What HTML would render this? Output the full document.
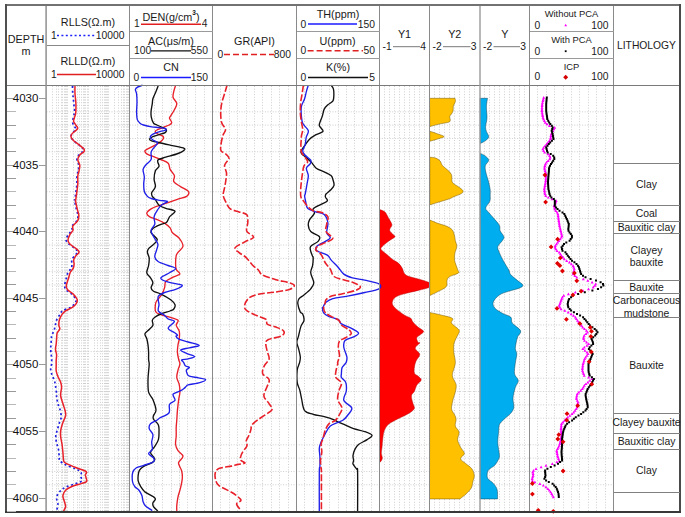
<!DOCTYPE html>
<html><head><meta charset="utf-8"><style>
html,body{margin:0;padding:0;background:#fff;width:685px;height:517px;overflow:hidden}
svg{display:block}
text{font-family:"Liberation Sans",sans-serif}
</style></head><body>
<svg width="685" height="517" viewBox="0 0 685 517">
<rect width="685" height="517" fill="#fff"/>
<g id="grid">
<line x1="46.5" y1="111.82" x2="613.5" y2="111.82" stroke="#cecece" stroke-width="1" stroke-dasharray="1,1.6"/>
<line x1="46.5" y1="125.14" x2="613.5" y2="125.14" stroke="#cecece" stroke-width="1" stroke-dasharray="1,1.6"/>
<line x1="46.5" y1="138.46" x2="613.5" y2="138.46" stroke="#cecece" stroke-width="1" stroke-dasharray="1,1.6"/>
<line x1="46.5" y1="151.78" x2="613.5" y2="151.78" stroke="#cecece" stroke-width="1" stroke-dasharray="1,1.6"/>
<line x1="46.5" y1="178.42000000000002" x2="613.5" y2="178.42000000000002" stroke="#cecece" stroke-width="1" stroke-dasharray="1,1.6"/>
<line x1="46.5" y1="191.74" x2="613.5" y2="191.74" stroke="#cecece" stroke-width="1" stroke-dasharray="1,1.6"/>
<line x1="46.5" y1="205.06" x2="613.5" y2="205.06" stroke="#cecece" stroke-width="1" stroke-dasharray="1,1.6"/>
<line x1="46.5" y1="218.38" x2="613.5" y2="218.38" stroke="#cecece" stroke-width="1" stroke-dasharray="1,1.6"/>
<line x1="46.5" y1="245.02" x2="613.5" y2="245.02" stroke="#cecece" stroke-width="1" stroke-dasharray="1,1.6"/>
<line x1="46.5" y1="258.34000000000003" x2="613.5" y2="258.34000000000003" stroke="#cecece" stroke-width="1" stroke-dasharray="1,1.6"/>
<line x1="46.5" y1="271.65999999999997" x2="613.5" y2="271.65999999999997" stroke="#cecece" stroke-width="1" stroke-dasharray="1,1.6"/>
<line x1="46.5" y1="284.98" x2="613.5" y2="284.98" stroke="#cecece" stroke-width="1" stroke-dasharray="1,1.6"/>
<line x1="46.5" y1="311.62" x2="613.5" y2="311.62" stroke="#cecece" stroke-width="1" stroke-dasharray="1,1.6"/>
<line x1="46.5" y1="324.94" x2="613.5" y2="324.94" stroke="#cecece" stroke-width="1" stroke-dasharray="1,1.6"/>
<line x1="46.5" y1="338.26" x2="613.5" y2="338.26" stroke="#cecece" stroke-width="1" stroke-dasharray="1,1.6"/>
<line x1="46.5" y1="351.58000000000004" x2="613.5" y2="351.58000000000004" stroke="#cecece" stroke-width="1" stroke-dasharray="1,1.6"/>
<line x1="46.5" y1="378.22" x2="613.5" y2="378.22" stroke="#cecece" stroke-width="1" stroke-dasharray="1,1.6"/>
<line x1="46.5" y1="391.54" x2="613.5" y2="391.54" stroke="#cecece" stroke-width="1" stroke-dasharray="1,1.6"/>
<line x1="46.5" y1="404.86" x2="613.5" y2="404.86" stroke="#cecece" stroke-width="1" stroke-dasharray="1,1.6"/>
<line x1="46.5" y1="418.18" x2="613.5" y2="418.18" stroke="#cecece" stroke-width="1" stroke-dasharray="1,1.6"/>
<line x1="46.5" y1="444.82" x2="613.5" y2="444.82" stroke="#cecece" stroke-width="1" stroke-dasharray="1,1.6"/>
<line x1="46.5" y1="458.14" x2="613.5" y2="458.14" stroke="#cecece" stroke-width="1" stroke-dasharray="1,1.6"/>
<line x1="46.5" y1="471.46000000000004" x2="613.5" y2="471.46000000000004" stroke="#cecece" stroke-width="1" stroke-dasharray="1,1.6"/>
<line x1="46.5" y1="484.78000000000003" x2="613.5" y2="484.78000000000003" stroke="#cecece" stroke-width="1" stroke-dasharray="1,1.6"/>
<line x1="52.5" y1="86.0" x2="52.5" y2="512" stroke="#cfcfcf" stroke-width="1" stroke-dasharray="1,1.7"/>
<line x1="56.5" y1="86.0" x2="56.5" y2="512" stroke="#cfcfcf" stroke-width="1" stroke-dasharray="1,1.7"/>
<line x1="58.5" y1="86.0" x2="58.5" y2="512" stroke="#cfcfcf" stroke-width="1" stroke-dasharray="1,1.7"/>
<line x1="61.5" y1="86.0" x2="61.5" y2="512" stroke="#cfcfcf" stroke-width="1" stroke-dasharray="1,1.7"/>
<line x1="62.5" y1="86.0" x2="62.5" y2="512" stroke="#cfcfcf" stroke-width="1" stroke-dasharray="1,1.7"/>
<line x1="64.5" y1="86.0" x2="64.5" y2="512" stroke="#cfcfcf" stroke-width="1" stroke-dasharray="1,1.7"/>
<line x1="65.5" y1="86.0" x2="65.5" y2="512" stroke="#cfcfcf" stroke-width="1" stroke-dasharray="1,1.7"/>
<line x1="66.5" y1="86.0" x2="66.5" y2="512" stroke="#cfcfcf" stroke-width="1" stroke-dasharray="1,1.7"/>
<line x1="67.5" y1="86.0" x2="67.5" y2="512" stroke="#cfcfcf" stroke-width="1" stroke-dasharray="1,1.7"/>
<line x1="73.5" y1="86.0" x2="73.5" y2="512" stroke="#cfcfcf" stroke-width="1" stroke-dasharray="1,1.7"/>
<line x1="77.5" y1="86.0" x2="77.5" y2="512" stroke="#cfcfcf" stroke-width="1" stroke-dasharray="1,1.7"/>
<line x1="79.5" y1="86.0" x2="79.5" y2="512" stroke="#cfcfcf" stroke-width="1" stroke-dasharray="1,1.7"/>
<line x1="81.5" y1="86.0" x2="81.5" y2="512" stroke="#cfcfcf" stroke-width="1" stroke-dasharray="1,1.7"/>
<line x1="83.5" y1="86.0" x2="83.5" y2="512" stroke="#cfcfcf" stroke-width="1" stroke-dasharray="1,1.7"/>
<line x1="84.5" y1="86.0" x2="84.5" y2="512" stroke="#cfcfcf" stroke-width="1" stroke-dasharray="1,1.7"/>
<line x1="85.5" y1="86.0" x2="85.5" y2="512" stroke="#cfcfcf" stroke-width="1" stroke-dasharray="1,1.7"/>
<line x1="87.5" y1="86.0" x2="87.5" y2="512" stroke="#cfcfcf" stroke-width="1" stroke-dasharray="1,1.7"/>
<line x1="88.5" y1="86.0" x2="88.5" y2="512" stroke="#cfcfcf" stroke-width="1" stroke-dasharray="1,1.7"/>
<line x1="94.5" y1="86.0" x2="94.5" y2="512" stroke="#cfcfcf" stroke-width="1" stroke-dasharray="1,1.7"/>
<line x1="97.5" y1="86.0" x2="97.5" y2="512" stroke="#cfcfcf" stroke-width="1" stroke-dasharray="1,1.7"/>
<line x1="100.5" y1="86.0" x2="100.5" y2="512" stroke="#cfcfcf" stroke-width="1" stroke-dasharray="1,1.7"/>
<line x1="102.5" y1="86.0" x2="102.5" y2="512" stroke="#cfcfcf" stroke-width="1" stroke-dasharray="1,1.7"/>
<line x1="104.5" y1="86.0" x2="104.5" y2="512" stroke="#cfcfcf" stroke-width="1" stroke-dasharray="1,1.7"/>
<line x1="105.5" y1="86.0" x2="105.5" y2="512" stroke="#cfcfcf" stroke-width="1" stroke-dasharray="1,1.7"/>
<line x1="106.5" y1="86.0" x2="106.5" y2="512" stroke="#cfcfcf" stroke-width="1" stroke-dasharray="1,1.7"/>
<line x1="107.5" y1="86.0" x2="107.5" y2="512" stroke="#cfcfcf" stroke-width="1" stroke-dasharray="1,1.7"/>
<line x1="108.5" y1="86.0" x2="108.5" y2="512" stroke="#cfcfcf" stroke-width="1" stroke-dasharray="1,1.7"/>
<line x1="114.5" y1="86.0" x2="114.5" y2="512" stroke="#cfcfcf" stroke-width="1" stroke-dasharray="1,1.7"/>
<line x1="118.5" y1="86.0" x2="118.5" y2="512" stroke="#cfcfcf" stroke-width="1" stroke-dasharray="1,1.7"/>
<line x1="121.5" y1="86.0" x2="121.5" y2="512" stroke="#cfcfcf" stroke-width="1" stroke-dasharray="1,1.7"/>
<line x1="123.5" y1="86.0" x2="123.5" y2="512" stroke="#cfcfcf" stroke-width="1" stroke-dasharray="1,1.7"/>
<line x1="124.5" y1="86.0" x2="124.5" y2="512" stroke="#cfcfcf" stroke-width="1" stroke-dasharray="1,1.7"/>
<line x1="126.5" y1="86.0" x2="126.5" y2="512" stroke="#cfcfcf" stroke-width="1" stroke-dasharray="1,1.7"/>
<line x1="127.5" y1="86.0" x2="127.5" y2="512" stroke="#cfcfcf" stroke-width="1" stroke-dasharray="1,1.7"/>
<line x1="128.5" y1="86.0" x2="128.5" y2="512" stroke="#cfcfcf" stroke-width="1" stroke-dasharray="1,1.7"/>
<line x1="137.5" y1="86.0" x2="137.5" y2="512" stroke="#cfcfcf" stroke-width="1" stroke-dasharray="1,1.7"/>
<line x1="146.5" y1="86.0" x2="146.5" y2="512" stroke="#cfcfcf" stroke-width="1" stroke-dasharray="1,1.7"/>
<line x1="154.5" y1="86.0" x2="154.5" y2="512" stroke="#cfcfcf" stroke-width="1" stroke-dasharray="1,1.7"/>
<line x1="162.5" y1="86.0" x2="162.5" y2="512" stroke="#cfcfcf" stroke-width="1" stroke-dasharray="1,1.7"/>
<line x1="171.5" y1="86.0" x2="171.5" y2="512" stroke="#cfcfcf" stroke-width="1" stroke-dasharray="1,1.7"/>
<line x1="179.5" y1="86.0" x2="179.5" y2="512" stroke="#cfcfcf" stroke-width="1" stroke-dasharray="1,1.7"/>
<line x1="187.5" y1="86.0" x2="187.5" y2="512" stroke="#cfcfcf" stroke-width="1" stroke-dasharray="1,1.7"/>
<line x1="195.5" y1="86.0" x2="195.5" y2="512" stroke="#cfcfcf" stroke-width="1" stroke-dasharray="1,1.7"/>
<line x1="204.5" y1="86.0" x2="204.5" y2="512" stroke="#cfcfcf" stroke-width="1" stroke-dasharray="1,1.7"/>
<line x1="220.5" y1="86.0" x2="220.5" y2="512" stroke="#cfcfcf" stroke-width="1" stroke-dasharray="1,1.7"/>
<line x1="229.5" y1="86.0" x2="229.5" y2="512" stroke="#cfcfcf" stroke-width="1" stroke-dasharray="1,1.7"/>
<line x1="237.5" y1="86.0" x2="237.5" y2="512" stroke="#cfcfcf" stroke-width="1" stroke-dasharray="1,1.7"/>
<line x1="246.5" y1="86.0" x2="246.5" y2="512" stroke="#cfcfcf" stroke-width="1" stroke-dasharray="1,1.7"/>
<line x1="254.5" y1="86.0" x2="254.5" y2="512" stroke="#cfcfcf" stroke-width="1" stroke-dasharray="1,1.7"/>
<line x1="262.5" y1="86.0" x2="262.5" y2="512" stroke="#cfcfcf" stroke-width="1" stroke-dasharray="1,1.7"/>
<line x1="271.5" y1="86.0" x2="271.5" y2="512" stroke="#cfcfcf" stroke-width="1" stroke-dasharray="1,1.7"/>
<line x1="279.5" y1="86.0" x2="279.5" y2="512" stroke="#cfcfcf" stroke-width="1" stroke-dasharray="1,1.7"/>
<line x1="288.5" y1="86.0" x2="288.5" y2="512" stroke="#cfcfcf" stroke-width="1" stroke-dasharray="1,1.7"/>
<line x1="304.5" y1="86.0" x2="304.5" y2="512" stroke="#cfcfcf" stroke-width="1" stroke-dasharray="1,1.7"/>
<line x1="313.5" y1="86.0" x2="313.5" y2="512" stroke="#cfcfcf" stroke-width="1" stroke-dasharray="1,1.7"/>
<line x1="321.5" y1="86.0" x2="321.5" y2="512" stroke="#cfcfcf" stroke-width="1" stroke-dasharray="1,1.7"/>
<line x1="329.5" y1="86.0" x2="329.5" y2="512" stroke="#cfcfcf" stroke-width="1" stroke-dasharray="1,1.7"/>
<line x1="338.5" y1="86.0" x2="338.5" y2="512" stroke="#cfcfcf" stroke-width="1" stroke-dasharray="1,1.7"/>
<line x1="346.5" y1="86.0" x2="346.5" y2="512" stroke="#cfcfcf" stroke-width="1" stroke-dasharray="1,1.7"/>
<line x1="354.5" y1="86.0" x2="354.5" y2="512" stroke="#cfcfcf" stroke-width="1" stroke-dasharray="1,1.7"/>
<line x1="362.5" y1="86.0" x2="362.5" y2="512" stroke="#cfcfcf" stroke-width="1" stroke-dasharray="1,1.7"/>
<line x1="371.5" y1="86.0" x2="371.5" y2="512" stroke="#cfcfcf" stroke-width="1" stroke-dasharray="1,1.7"/>
<line x1="384.5" y1="86.0" x2="384.5" y2="512" stroke="#cfcfcf" stroke-width="1" stroke-dasharray="1,1.7"/>
<line x1="389.5" y1="86.0" x2="389.5" y2="512" stroke="#cfcfcf" stroke-width="1" stroke-dasharray="1,1.7"/>
<line x1="394.5" y1="86.0" x2="394.5" y2="512" stroke="#cfcfcf" stroke-width="1" stroke-dasharray="1,1.7"/>
<line x1="399.5" y1="86.0" x2="399.5" y2="512" stroke="#cfcfcf" stroke-width="1" stroke-dasharray="1,1.7"/>
<line x1="404.5" y1="86.0" x2="404.5" y2="512" stroke="#cfcfcf" stroke-width="1" stroke-dasharray="1,1.7"/>
<line x1="409.5" y1="86.0" x2="409.5" y2="512" stroke="#cfcfcf" stroke-width="1" stroke-dasharray="1,1.7"/>
<line x1="414.5" y1="86.0" x2="414.5" y2="512" stroke="#cfcfcf" stroke-width="1" stroke-dasharray="1,1.7"/>
<line x1="419.5" y1="86.0" x2="419.5" y2="512" stroke="#cfcfcf" stroke-width="1" stroke-dasharray="1,1.7"/>
<line x1="424.5" y1="86.0" x2="424.5" y2="512" stroke="#cfcfcf" stroke-width="1" stroke-dasharray="1,1.7"/>
<line x1="434.5" y1="86.0" x2="434.5" y2="512" stroke="#cfcfcf" stroke-width="1" stroke-dasharray="1,1.7"/>
<line x1="439.5" y1="86.0" x2="439.5" y2="512" stroke="#cfcfcf" stroke-width="1" stroke-dasharray="1,1.7"/>
<line x1="444.5" y1="86.0" x2="444.5" y2="512" stroke="#cfcfcf" stroke-width="1" stroke-dasharray="1,1.7"/>
<line x1="449.5" y1="86.0" x2="449.5" y2="512" stroke="#cfcfcf" stroke-width="1" stroke-dasharray="1,1.7"/>
<line x1="454.5" y1="86.0" x2="454.5" y2="512" stroke="#cfcfcf" stroke-width="1" stroke-dasharray="1,1.7"/>
<line x1="459.5" y1="86.0" x2="459.5" y2="512" stroke="#cfcfcf" stroke-width="1" stroke-dasharray="1,1.7"/>
<line x1="464.5" y1="86.0" x2="464.5" y2="512" stroke="#cfcfcf" stroke-width="1" stroke-dasharray="1,1.7"/>
<line x1="469.5" y1="86.0" x2="469.5" y2="512" stroke="#cfcfcf" stroke-width="1" stroke-dasharray="1,1.7"/>
<line x1="474.5" y1="86.0" x2="474.5" y2="512" stroke="#cfcfcf" stroke-width="1" stroke-dasharray="1,1.7"/>
<line x1="484.5" y1="86.0" x2="484.5" y2="512" stroke="#cfcfcf" stroke-width="1" stroke-dasharray="1,1.7"/>
<line x1="489.5" y1="86.0" x2="489.5" y2="512" stroke="#cfcfcf" stroke-width="1" stroke-dasharray="1,1.7"/>
<line x1="494.5" y1="86.0" x2="494.5" y2="512" stroke="#cfcfcf" stroke-width="1" stroke-dasharray="1,1.7"/>
<line x1="499.5" y1="86.0" x2="499.5" y2="512" stroke="#cfcfcf" stroke-width="1" stroke-dasharray="1,1.7"/>
<line x1="504.5" y1="86.0" x2="504.5" y2="512" stroke="#cfcfcf" stroke-width="1" stroke-dasharray="1,1.7"/>
<line x1="509.5" y1="86.0" x2="509.5" y2="512" stroke="#cfcfcf" stroke-width="1" stroke-dasharray="1,1.7"/>
<line x1="514.5" y1="86.0" x2="514.5" y2="512" stroke="#cfcfcf" stroke-width="1" stroke-dasharray="1,1.7"/>
<line x1="519.5" y1="86.0" x2="519.5" y2="512" stroke="#cfcfcf" stroke-width="1" stroke-dasharray="1,1.7"/>
<line x1="524.5" y1="86.0" x2="524.5" y2="512" stroke="#cfcfcf" stroke-width="1" stroke-dasharray="1,1.7"/>
<line x1="537.5" y1="86.0" x2="537.5" y2="512" stroke="#cfcfcf" stroke-width="1" stroke-dasharray="1,1.7"/>
<line x1="546.5" y1="86.0" x2="546.5" y2="512" stroke="#cfcfcf" stroke-width="1" stroke-dasharray="1,1.7"/>
<line x1="554.5" y1="86.0" x2="554.5" y2="512" stroke="#cfcfcf" stroke-width="1" stroke-dasharray="1,1.7"/>
<line x1="563.5" y1="86.0" x2="563.5" y2="512" stroke="#cfcfcf" stroke-width="1" stroke-dasharray="1,1.7"/>
<line x1="571.5" y1="86.0" x2="571.5" y2="512" stroke="#cfcfcf" stroke-width="1" stroke-dasharray="1,1.7"/>
<line x1="579.5" y1="86.0" x2="579.5" y2="512" stroke="#cfcfcf" stroke-width="1" stroke-dasharray="1,1.7"/>
<line x1="588.5" y1="86.0" x2="588.5" y2="512" stroke="#cfcfcf" stroke-width="1" stroke-dasharray="1,1.7"/>
<line x1="596.5" y1="86.0" x2="596.5" y2="512" stroke="#cfcfcf" stroke-width="1" stroke-dasharray="1,1.7"/>
<line x1="605.5" y1="86.0" x2="605.5" y2="512" stroke="#cfcfcf" stroke-width="1" stroke-dasharray="1,1.7"/>
</g>
<path d="M379.5,209.8 L380.5,209.8 C381.2,210.2 383.7,210.8 385.0,212.1 C386.3,213.3 387.1,215.6 388.1,217.3 C389.1,219.1 390.5,221.2 391.1,222.6 C391.7,224.0 392.1,224.3 391.8,225.6 C391.6,226.9 389.4,228.7 389.6,230.2 C389.9,231.7 392.4,233.6 393.3,234.7 C394.2,235.8 395.7,235.8 394.8,236.9 C393.9,238.0 390.4,239.7 388.1,241.5 C385.9,243.3 382.3,246.0 381.3,247.5 C380.3,249.0 381.1,249.4 382.0,250.5 C382.9,251.6 384.8,252.8 386.6,254.3 C388.4,255.8 390.6,258.1 392.6,259.6 C394.6,261.1 397.0,261.8 398.6,263.3 C400.2,264.8 401.5,267.0 402.4,268.6 C403.3,270.2 403.1,271.8 404.0,273.0 C404.9,274.2 405.3,275.0 407.7,276.0 C410.1,277.0 414.8,278.0 418.2,279.0 C421.6,280.0 426.0,281.2 428.0,282.1 C430.0,283.0 430.1,283.4 430.3,284.3 C430.6,285.2 431.5,286.3 429.5,287.3 C427.5,288.3 422.6,289.3 418.2,290.4 C413.8,291.5 406.9,293.0 403.1,294.1 C399.3,295.2 397.4,296.0 395.6,297.1 C393.9,298.2 393.1,299.6 392.6,300.9 C392.1,302.2 392.0,303.3 392.6,304.7 C393.2,306.1 394.4,307.4 396.4,309.2 C398.4,310.9 402.2,313.7 404.6,315.2 C407.0,316.7 409.3,317.1 410.7,318.2 C412.1,319.3 411.6,320.5 412.9,322.0 C414.1,323.5 416.4,325.8 418.2,327.3 C420.0,328.8 423.0,330.0 423.5,331.1 C424.0,332.2 422.3,333.0 421.2,334.1 C420.1,335.2 417.2,336.4 416.7,337.8 C416.2,339.2 417.7,341.5 418.2,342.4 C418.7,343.3 420.2,342.0 419.7,343.0 C419.2,344.0 415.2,346.4 415.2,348.3 C415.2,350.2 419.6,352.2 419.7,354.3 C419.8,356.4 416.9,359.0 416.0,361.1 C415.1,363.2 414.7,365.1 414.4,367.1 C414.1,369.1 413.8,371.7 414.4,373.2 C415.0,374.7 417.1,375.1 418.2,376.2 C419.3,377.3 421.4,378.5 421.2,380.0 C420.9,381.5 417.8,383.3 416.7,385.2 C415.6,387.1 415.3,389.5 414.4,391.3 C413.5,393.1 411.6,393.8 411.4,395.8 C411.1,397.8 412.4,401.3 412.9,403.3 C413.4,405.3 414.5,406.7 414.4,408.0 C414.3,409.3 413.3,410.0 412.2,411.0 C411.1,412.0 409.6,412.9 407.7,414.0 C405.8,415.1 403.3,416.2 401.0,417.3 C398.7,418.4 396.2,419.6 394.1,420.8 C392.0,422.0 389.7,423.0 388.1,424.6 C386.5,426.2 385.2,428.3 384.3,430.6 C383.4,432.9 383.2,435.4 382.8,438.2 C382.4,441.0 382.2,444.7 382.0,447.2 C381.8,449.7 381.2,451.4 381.3,453.2 C381.4,455.0 382.3,456.5 382.3,457.8 C382.3,459.1 381.7,460.1 381.3,460.8 C380.9,461.6 380.1,462.1 379.8,462.3 Z" fill="#ff0000" stroke="#b00000" stroke-width="0.6" stroke-opacity="0.8"/>
<path d="M429.5,98.3 L455.0,98.3 C455.1,98.7 455.4,99.7 455.4,100.4 C455.4,101.1 455.4,101.5 455.1,102.4 C454.8,103.3 453.7,104.8 453.4,105.8 C453.1,106.8 453.3,107.6 453.2,108.5 C453.1,109.4 453.3,110.3 453.0,111.2 C452.7,112.1 451.9,113.1 451.4,114.0 C450.8,114.9 449.9,115.7 449.7,116.7 C449.5,117.7 450.4,119.1 450.3,120.0 C450.2,120.9 450.2,121.5 449.0,122.1 C447.8,122.6 445.2,122.9 443.2,123.3 C441.2,123.7 439.3,124.0 437.1,124.6 C434.9,125.1 431.0,126.3 429.8,126.6 Z" fill="#ffc000" stroke="#6b5000" stroke-width="0.6" stroke-opacity="0.8"/>
<path d="M429.8,131.2 C431.0,131.6 434.8,132.8 437.1,133.7 C439.5,134.6 443.4,135.7 443.9,136.4 C444.4,137.2 442.5,137.4 440.1,138.2 C437.8,139.0 431.5,140.8 429.8,141.3 Z" fill="#ffc000" stroke="#6b5000" stroke-width="0.6" stroke-opacity="0.8"/>
<path d="M429.8,157.2 C430.8,157.3 433.9,157.4 435.6,158.0 C437.3,158.6 439.0,159.8 440.1,161.0 C441.2,162.2 441.1,164.0 442.4,165.5 C443.7,167.0 446.2,168.6 447.7,170.1 C449.2,171.6 450.7,172.7 451.5,174.7 C452.3,176.7 451.2,180.2 452.3,182.2 C453.4,184.2 456.6,185.4 458.4,186.8 C460.2,188.2 462.4,189.5 462.9,190.6 C463.4,191.7 462.9,192.6 461.4,193.6 C459.9,194.6 455.8,195.8 453.8,196.7 C451.8,197.6 452.1,197.8 449.3,198.8 C446.5,199.8 440.4,201.6 437.1,202.6 C433.9,203.6 431.0,204.5 429.8,204.9 Z" fill="#ffc000" stroke="#6b5000" stroke-width="0.6" stroke-opacity="0.8"/>
<path d="M429.8,220.0 C431.0,220.5 434.4,222.1 437.1,223.1 C439.8,224.1 443.7,225.0 446.2,226.1 C448.7,227.2 450.9,228.2 452.3,229.9 C453.7,231.6 454.1,234.2 454.6,236.0 C455.1,237.8 454.9,238.7 455.3,240.5 C455.7,242.3 456.9,244.6 456.8,246.6 C456.8,248.6 455.4,250.4 455.0,252.7 C454.6,255.0 454.2,257.5 454.6,260.3 C455.0,263.1 457.0,267.3 457.6,269.4 C458.2,271.5 459.8,271.8 458.4,273.0 C457.0,274.2 451.2,275.5 449.3,276.8 C447.4,278.1 447.5,279.0 447.0,280.6 C446.5,282.2 447.8,284.8 446.2,286.7 C444.6,288.6 439.8,290.5 437.1,292.0 C434.4,293.5 431.0,294.9 429.8,295.5 Z" fill="#ffc000" stroke="#6b5000" stroke-width="0.6" stroke-opacity="0.8"/>
<path d="M429.8,312.5 C431.5,312.9 436.4,313.8 440.1,314.8 C443.9,315.8 450.4,316.9 452.3,318.3 C454.2,319.7 450.5,321.3 451.5,323.1 C452.5,324.9 457.1,327.7 458.4,329.2 C459.7,330.7 459.5,330.7 459.1,332.2 C458.7,333.7 457.0,336.3 456.1,338.3 C455.2,340.3 454.2,342.0 453.8,344.4 C453.4,346.8 453.6,349.5 453.8,352.6 C454.1,355.7 455.6,359.4 455.3,363.2 C455.1,367.0 452.2,371.8 452.3,375.4 C452.4,378.9 455.6,381.7 456.1,384.5 C456.6,387.3 455.8,389.6 455.3,392.1 C454.8,394.6 453.6,396.9 453.0,399.7 C452.4,402.5 451.2,406.3 451.5,408.8 C451.8,411.3 453.8,413.0 454.6,414.8 C455.4,416.6 456.0,417.5 456.1,419.4 C456.2,421.3 454.8,424.0 455.3,426.1 C455.8,428.2 458.7,429.8 459.1,432.1 C459.5,434.4 457.4,437.2 457.6,439.7 C457.9,442.2 459.5,445.0 460.6,447.3 C461.7,449.6 464.4,451.5 464.4,453.4 C464.4,455.3 460.4,457.0 460.6,458.7 C460.8,460.4 463.7,461.8 465.6,463.5 C467.5,465.2 470.6,466.9 472.0,469.0 C473.4,471.1 474.2,473.7 474.3,475.8 C474.4,477.9 473.3,479.9 472.8,481.9 C472.3,483.9 472.4,486.0 471.3,488.0 C470.2,490.0 467.9,492.2 466.0,494.0 C464.1,495.8 460.9,498.1 459.9,498.9 L429.5,498.9 Z" fill="#ffc000" stroke="#6b5000" stroke-width="0.6" stroke-opacity="0.8"/>
<path d="M480.0,98.3 L487.5,98.3 C487.3,99.7 486.5,103.3 486.4,106.5 C486.3,109.7 487.1,114.4 487.0,117.7 C486.9,121.0 485.7,124.1 485.6,126.4 C485.5,128.7 485.9,129.7 486.4,131.4 C486.9,133.1 488.8,135.2 488.7,136.7 C488.6,138.2 487.1,139.4 485.7,140.5 C484.3,141.6 481.3,143.0 480.4,143.5 Z" fill="#00aeef" stroke="#0a3a50" stroke-width="0.6" stroke-opacity="0.8"/>
<path d="M480.4,153.4 C481.1,153.8 483.5,154.6 484.9,155.7 C486.3,156.8 488.6,158.6 488.7,160.2 C488.8,161.8 485.9,163.6 485.4,165.5 C484.9,167.4 485.1,168.8 485.7,171.6 C486.2,174.4 487.9,179.2 488.7,182.2 C489.4,185.2 489.9,187.7 490.2,189.8 C490.4,191.9 490.2,193.1 490.2,195.0 C490.1,196.9 490.6,198.9 489.9,201.1 C489.1,203.2 486.0,206.1 485.7,207.9 C485.4,209.7 486.7,210.0 488.0,211.7 C489.3,213.3 491.4,215.5 493.3,217.8 C495.2,220.1 498.3,223.2 499.4,225.4 C500.5,227.6 499.4,228.8 500.1,230.7 C500.9,232.6 503.5,235.1 503.9,236.7 C504.3,238.3 503.4,238.8 502.4,240.5 C501.4,242.2 498.3,244.6 497.8,246.6 C497.3,248.6 498.4,250.2 499.4,252.7 C500.4,255.2 502.3,258.9 503.9,261.8 C505.5,264.7 507.7,267.9 508.8,270.0 C509.9,272.1 509.2,272.8 510.7,274.6 C512.2,276.4 515.6,278.8 517.6,280.6 C519.6,282.4 522.6,283.9 522.9,285.2 C523.1,286.5 521.5,287.2 519.1,288.2 C516.7,289.2 511.8,290.2 508.5,291.3 C505.2,292.4 501.9,293.2 499.4,295.0 C496.9,296.8 494.1,299.7 493.3,301.9 C492.5,304.1 493.3,306.1 494.8,308.0 C496.3,309.9 499.8,311.8 502.4,313.3 C505.0,314.8 509.1,315.5 510.7,317.1 C512.4,318.7 510.6,320.8 512.3,323.1 C513.9,325.4 519.7,328.4 520.6,330.7 C521.5,333.0 518.4,334.8 517.6,336.8 C516.9,338.8 516.5,340.9 516.1,342.9 C515.7,344.9 515.2,346.9 515.3,348.8 C515.4,350.7 516.8,351.7 516.8,354.1 C516.8,356.5 515.7,359.9 515.3,363.2 C514.9,366.5 514.0,370.9 514.5,373.8 C515.0,376.7 518.2,378.4 518.3,380.7 C518.4,383.0 516.2,384.6 515.3,387.5 C514.4,390.4 513.2,394.8 513.0,398.1 C512.8,401.4 514.2,404.7 513.8,407.2 C513.4,409.7 512.4,411.3 510.7,413.3 C509.1,415.3 505.8,417.5 503.9,419.4 C502.0,421.3 500.3,422.5 499.4,424.6 C498.5,426.7 498.9,429.1 498.6,432.1 C498.3,435.1 497.7,439.0 497.8,442.8 C497.9,446.6 499.3,452.2 499.4,454.9 C499.5,457.6 499.4,457.4 498.6,459.1 C497.8,460.8 496.5,463.4 494.8,465.2 C493.1,467.0 490.0,468.2 488.7,469.7 C487.4,471.2 487.3,472.8 487.2,474.3 C487.1,475.8 487.0,477.3 488.0,478.8 C489.0,480.3 491.8,481.6 493.3,483.4 C494.8,485.2 496.4,486.9 497.1,489.5 C497.8,492.1 497.4,497.3 497.5,498.9 L480.0,498.9 Z" fill="#00aeef" stroke="#0a3a50" stroke-width="0.6" stroke-opacity="0.8"/>
<path d="M72.5,86.0 C72.5,87.2 72.6,91.3 72.7,93.2 C72.8,95.1 73.0,96.0 73.2,97.5 C73.4,99.0 73.5,100.8 73.7,102.4 C73.9,104.0 74.0,105.6 74.2,107.2 C74.4,108.8 74.8,110.5 74.7,112.0 C74.6,113.5 74.0,114.5 73.7,116.0 C73.4,117.5 72.8,119.3 72.7,120.8 C72.6,122.2 72.7,123.3 73.2,124.7 C73.7,126.1 75.9,127.5 75.7,129.0 C75.5,130.4 73.1,132.1 72.3,133.4 C71.5,134.7 70.8,135.6 71.0,136.8 C71.2,138.0 72.4,139.5 73.7,140.8 C75.0,142.2 77.5,143.5 79.1,144.9 C80.7,146.3 82.8,147.9 83.4,149.0 C84.0,150.1 83.2,150.7 82.5,151.7 C81.8,152.7 79.8,153.7 78.9,155.0 C78.0,156.3 76.9,158.1 76.9,159.8 C76.9,161.5 78.7,163.4 78.9,165.2 C79.1,167.0 78.5,168.8 78.2,170.6 C77.9,172.4 77.1,173.7 76.9,176.0 C76.7,178.3 77.1,181.5 76.9,184.2 C76.7,186.9 76.2,189.7 75.9,192.3 C75.5,194.9 75.0,198.7 74.8,200.0 C74.6,201.3 74.4,199.0 74.6,200.4 C74.8,201.8 75.6,206.0 76.2,208.5 C76.7,211.0 77.8,213.3 77.9,215.3 C78.0,217.3 77.9,218.9 76.9,220.7 C75.9,222.5 72.7,224.6 71.9,226.2 C71.1,227.8 72.6,228.8 72.1,230.2 C71.5,231.5 69.6,232.7 68.6,234.3 C67.6,235.9 66.1,238.1 66.1,239.7 C66.1,241.3 67.4,242.5 68.7,243.8 C70.0,245.2 72.6,246.5 74.1,247.8 C75.6,249.2 77.7,250.5 77.7,251.9 C77.7,253.3 75.3,254.7 74.3,256.0 C73.3,257.4 72.2,258.6 71.8,260.0 C71.4,261.4 72.0,262.8 71.9,264.1 C71.8,265.5 72.0,266.8 71.4,268.1 C70.8,269.5 69.0,270.4 68.1,272.2 C67.2,274.0 66.7,276.8 66.1,279.0 C65.5,281.2 64.7,283.9 64.7,285.7 C64.7,287.5 64.9,288.4 66.1,289.8 C67.2,291.2 70.0,292.3 71.6,293.9 C73.2,295.5 75.1,297.7 75.7,299.3 C76.3,300.9 75.9,302.0 75.0,303.3 C74.1,304.6 72.5,306.1 70.4,307.4 C68.3,308.6 64.3,309.7 62.6,310.8 C60.9,311.9 61.2,312.7 60.2,314.2 C59.2,315.7 57.6,317.8 56.8,319.6 C56.0,321.4 55.8,323.2 55.4,325.0 C55.0,326.8 54.7,328.6 54.1,330.4 C53.5,332.2 52.2,333.8 51.7,335.8 C51.2,337.8 51.3,340.3 51.1,342.6 C50.9,344.9 50.7,347.1 50.7,349.4 C50.8,351.7 51.2,353.9 51.4,356.2 C51.6,358.4 51.8,360.6 51.7,362.9 C51.6,365.1 50.6,367.7 50.7,369.7 C50.8,371.7 51.5,373.3 52.1,375.1 C52.7,376.9 53.8,378.7 54.4,380.5 C55.0,382.3 55.1,383.8 55.5,386.0 C55.9,388.2 56.4,392.2 56.6,394.0 C56.8,395.8 56.4,395.2 56.6,396.8 C56.8,398.4 57.3,401.2 57.9,403.5 C58.5,405.8 59.7,408.0 60.2,410.3 C60.8,412.6 61.3,415.1 61.2,417.1 C61.1,419.1 60.1,420.5 59.5,422.5 C58.9,424.5 58.1,427.1 57.5,429.3 C56.9,431.6 55.9,433.8 55.8,436.0 C55.6,438.2 56.1,440.5 56.6,442.8 C57.1,445.1 58.0,447.1 58.5,449.6 C59.0,452.1 59.1,455.9 59.3,457.7 C59.5,459.5 58.5,459.4 59.5,460.5 C60.5,461.6 62.4,463.2 65.0,464.6 C67.6,466.0 72.4,467.5 75.1,468.7 C77.8,469.9 79.9,470.6 80.9,472.0 C81.9,473.4 80.7,475.3 80.9,476.8 C81.1,478.3 82.8,479.7 81.9,480.8 C81.1,481.9 78.4,482.6 75.8,483.6 C73.2,484.6 68.8,485.9 66.3,487.0 C63.8,488.1 62.5,488.6 60.9,490.3 C59.3,492.0 57.1,494.8 56.6,497.1 C56.1,499.4 57.9,501.8 57.9,503.9 C57.9,506.0 57.0,509.0 56.8,510.0" fill="none" stroke="#1f1fe0" stroke-width="1.7" stroke-linejoin="round" stroke-dasharray="2,2.6"/>
<path d="M75.0,85.0 C75.0,86.5 74.8,90.6 75.0,93.7 C75.2,96.8 75.8,100.2 75.9,103.4 C76.0,106.6 76.0,110.6 75.7,113.0 C75.5,115.4 74.7,116.4 74.4,117.9 C74.1,119.4 73.2,120.2 73.7,121.8 C74.2,123.4 77.1,126.2 77.6,127.6 C78.0,129.0 77.3,129.0 76.4,130.0 C75.5,131.0 73.2,132.3 72.3,133.4 C71.4,134.5 70.8,135.6 71.0,136.8 C71.2,138.0 72.4,139.5 73.7,140.8 C75.0,142.2 77.4,143.5 79.1,144.9 C80.8,146.3 83.1,147.9 83.9,149.0 C84.7,150.1 84.6,150.7 83.9,151.7 C83.2,152.7 80.8,153.7 79.8,155.0 C78.8,156.3 77.8,158.1 77.8,159.8 C77.8,161.5 79.6,163.4 79.8,165.2 C80.0,167.0 79.4,168.8 79.1,170.6 C78.8,172.4 78.0,173.7 77.8,176.0 C77.6,178.3 78.0,181.5 77.8,184.2 C77.6,186.9 77.1,189.7 76.8,192.3 C76.5,194.9 75.9,198.7 75.7,200.0 C75.5,201.3 75.3,199.0 75.5,200.4 C75.7,201.8 76.5,206.0 77.1,208.5 C77.6,211.0 78.7,213.3 78.8,215.3 C78.9,217.3 78.8,218.9 77.8,220.7 C76.8,222.5 73.6,224.6 72.8,226.2 C72.0,227.8 73.5,228.8 73.0,230.2 C72.5,231.5 70.8,232.7 70.0,234.3 C69.2,235.9 68.1,238.1 68.0,239.7 C67.9,241.3 68.4,242.5 69.6,243.8 C70.8,245.2 73.4,246.5 75.0,247.8 C76.6,249.2 79.0,250.5 79.1,251.9 C79.2,253.3 76.6,254.7 75.7,256.0 C74.8,257.4 74.0,258.6 73.7,260.0 C73.4,261.4 74.2,262.8 74.1,264.1 C74.0,265.5 73.9,266.8 73.3,268.1 C72.7,269.5 71.1,270.4 70.3,272.2 C69.5,274.0 69.0,276.8 68.3,279.0 C67.6,281.2 66.4,283.9 66.3,285.7 C66.2,287.5 66.5,288.4 67.6,289.8 C68.7,291.2 71.4,292.3 73.0,293.9 C74.6,295.5 76.5,297.7 77.1,299.3 C77.7,300.9 77.2,302.0 76.4,303.3 C75.6,304.6 74.1,306.1 72.3,307.4 C70.5,308.6 67.3,309.7 65.6,310.8 C63.9,311.9 63.2,312.7 62.2,314.2 C61.2,315.7 60.1,317.8 59.5,319.6 C58.9,321.4 58.8,323.4 58.8,325.0 C58.8,326.6 60.1,327.6 59.8,329.0 C59.5,330.4 57.6,331.5 57.1,333.1 C56.6,334.7 56.8,336.7 56.6,338.5 C56.5,340.3 56.4,342.2 56.2,344.0 C56.0,345.8 55.4,347.6 55.5,349.4 C55.6,351.2 56.5,353.0 56.6,354.8 C56.7,356.6 56.3,358.4 56.2,360.2 C56.1,362.0 56.2,363.8 56.2,365.6 C56.2,367.4 55.9,369.2 56.2,371.0 C56.5,372.8 57.2,374.7 57.9,376.5 C58.6,378.3 60.0,380.1 60.6,381.9 C61.2,383.7 61.6,385.1 61.6,387.3 C61.6,389.6 60.4,392.7 60.6,395.4 C60.8,398.1 62.2,401.0 62.9,403.5 C63.6,406.0 64.5,408.3 65.0,410.3 C65.5,412.3 65.9,413.7 65.6,415.7 C65.2,417.7 63.7,420.2 62.9,422.5 C62.1,424.8 61.3,427.1 60.9,429.3 C60.5,431.6 60.4,433.5 60.6,436.0 C60.8,438.5 61.6,441.5 62.0,444.2 C62.4,446.9 62.6,449.6 62.9,452.3 C63.2,455.0 63.2,458.7 63.6,460.5 C64.0,462.3 63.7,462.1 65.6,463.2 C67.5,464.3 71.7,465.9 75.1,467.3 C78.5,468.7 84.3,470.1 86.0,471.4 C87.7,472.6 85.3,473.8 85.3,474.8 C85.3,475.8 85.8,476.4 86.0,477.5 C86.2,478.6 87.4,480.5 86.6,481.5 C85.8,482.5 83.6,482.8 81.2,483.6 C78.8,484.4 75.0,485.2 72.4,486.3 C69.8,487.4 67.2,488.7 65.6,490.3 C64.0,491.9 63.1,493.9 62.9,495.7 C62.7,497.5 63.8,499.4 64.3,501.2 C64.8,503.0 65.7,505.0 65.6,506.6 C65.5,508.2 63.9,510.3 63.6,511.0" fill="none" stroke="#e8202a" stroke-width="1.5" stroke-linejoin="round"/>
<path d="M175.6,85.2 C175.3,86.2 174.2,89.4 173.8,91.4 C173.4,93.5 172.6,95.5 173.1,97.5 C173.6,99.5 176.6,101.5 176.8,103.6 C177.0,105.6 175.4,107.8 174.4,109.8 C173.4,111.8 171.5,114.5 170.7,115.9 C169.9,117.3 169.3,117.2 169.5,118.3 C169.7,119.4 171.8,121.5 171.7,122.6 C171.6,123.7 170.6,124.2 169.2,125.0 C167.8,125.8 165.3,126.5 163.4,127.3 C161.5,128.1 158.9,129.0 157.5,129.7 C156.1,130.4 155.2,130.7 155.2,131.4 C155.2,132.1 156.2,133.0 157.5,133.8 C158.8,134.6 161.8,135.3 162.8,136.1 C163.8,136.9 163.8,137.4 163.4,138.4 C163.0,139.4 161.9,140.7 160.4,141.9 C158.9,143.1 156.5,144.3 154.6,145.4 C152.7,146.5 150.4,147.5 148.8,148.4 C147.2,149.3 145.5,149.9 145.0,150.7 C144.5,151.5 145.2,152.3 145.8,153.0 C146.4,153.7 147.5,154.2 148.8,154.8 C150.1,155.4 151.5,155.8 153.5,156.6 C155.5,157.4 158.5,158.5 160.9,159.6 C163.3,160.7 166.7,161.7 168.2,163.3 C169.7,164.9 169.1,167.4 170.1,169.4 C171.1,171.4 173.8,173.6 174.4,175.6 C175.0,177.6 172.8,179.9 173.8,181.7 C174.8,183.5 178.1,185.0 180.5,186.6 C182.9,188.2 187.5,189.9 188.5,191.5 C189.5,193.1 188.3,195.1 186.6,196.4 C184.8,197.7 181.1,198.1 178.0,199.1 C174.9,200.1 171.5,201.6 168.2,202.7 C164.9,203.8 161.2,204.8 158.4,205.8 C155.6,206.8 153.0,207.7 151.1,208.9 C149.2,210.1 147.0,211.9 146.8,213.2 C146.6,214.5 148.0,215.7 149.8,216.8 C151.6,217.9 155.2,218.8 157.8,219.9 C160.4,221.0 163.1,222.3 165.2,223.6 C167.2,224.9 168.9,226.4 170.1,227.9 C171.3,229.4 171.0,231.1 172.5,232.8 C174.0,234.5 177.6,236.1 179.3,238.3 C181.1,240.6 183.2,244.0 183.0,246.3 C182.8,248.7 179.1,250.8 178.0,252.4 C176.9,254.0 176.6,253.9 176.2,255.7 C175.8,257.5 175.6,260.8 175.6,263.0 C175.6,265.2 175.5,267.3 176.2,269.2 C176.9,271.1 180.4,272.8 179.9,274.1 C179.4,275.4 175.4,275.9 173.1,277.1 C170.8,278.3 167.2,279.6 165.8,281.4 C164.4,283.1 165.3,285.4 164.6,287.6 C163.9,289.9 162.8,292.7 161.5,294.9 C160.2,297.1 157.6,299.4 156.6,301.0 C155.6,302.6 155.6,302.9 155.4,304.7 C155.2,306.5 154.8,310.0 155.7,311.7 C156.6,313.4 158.6,313.8 160.9,314.7 C163.2,315.6 166.7,316.3 169.5,317.2 C172.3,318.1 176.9,319.0 178.0,320.3 C179.1,321.6 176.0,323.4 176.2,325.2 C176.4,327.0 178.8,329.1 179.3,331.3 C179.8,333.6 179.5,336.4 179.3,338.7 C179.1,340.9 178.3,342.6 178.0,344.8 C177.7,347.0 177.3,349.7 177.4,352.1 C177.5,354.6 178.3,357.5 178.7,359.5 C179.1,361.5 180.0,362.2 179.9,364.0 C179.8,365.8 178.5,367.9 178.0,370.1 C177.5,372.4 176.6,375.1 176.8,377.5 C177.0,379.9 178.8,382.4 179.3,384.8 C179.8,387.2 180.0,389.7 179.9,392.2 C179.8,394.7 179.1,396.5 178.7,399.6 C178.3,402.7 177.7,407.2 177.4,410.6 C177.1,414.0 177.0,417.2 176.8,420.0 C176.6,422.8 176.3,424.8 176.2,427.4 C176.1,430.0 176.3,433.0 176.2,435.9 C176.1,438.8 175.3,442.0 175.6,444.5 C175.9,447.0 176.8,448.8 178.0,450.7 C179.2,452.6 182.9,454.3 183.0,456.2 C183.1,458.1 179.3,460.7 178.7,462.3 C178.1,463.9 179.0,464.6 179.5,466.0 C180.0,467.4 181.2,468.9 181.7,471.0 C182.2,473.1 182.5,475.5 182.3,478.4 C182.1,481.3 181.2,485.1 180.5,488.2 C179.8,491.3 178.6,493.9 178.0,496.8 C177.4,499.7 177.0,503.0 176.8,505.4 C176.6,507.8 176.8,510.1 176.8,511.0" fill="none" stroke="#e8202a" stroke-width="1.35" stroke-linejoin="round"/>
<path d="M158.4,85.2 C158.0,86.2 156.9,89.2 156.0,91.4 C155.1,93.7 153.5,96.7 152.9,98.7 C152.3,100.7 152.6,101.5 152.3,103.6 C152.0,105.6 151.3,108.8 151.1,111.0 C150.9,113.2 150.9,115.1 151.3,117.1 C151.7,119.1 152.6,121.9 153.5,123.2 C154.4,124.5 155.2,124.2 156.9,125.0 C158.6,125.8 161.8,127.1 163.4,127.9 C165.0,128.7 166.0,128.9 166.3,129.7 C166.6,130.5 166.3,131.8 165.1,132.6 C163.9,133.4 161.4,133.9 159.3,134.6 C157.2,135.3 154.4,136.0 152.8,136.7 C151.2,137.4 149.8,138.3 149.6,139.0 C149.4,139.7 150.2,140.2 151.7,140.8 C153.2,141.4 155.8,141.8 158.7,142.5 C161.6,143.2 165.6,144.1 169.2,144.9 C172.8,145.7 177.4,146.5 180.0,147.2 C182.6,147.9 185.1,148.1 184.8,149.2 C184.5,150.2 181.2,152.2 178.0,153.5 C174.8,154.8 169.1,156.2 165.8,157.2 C162.5,158.2 159.7,158.8 158.4,159.6 C157.1,160.4 157.7,161.0 157.8,162.1 C157.9,163.2 159.4,165.0 159.0,166.4 C158.6,167.8 156.2,168.6 155.4,170.7 C154.6,172.8 154.1,176.5 154.1,179.2 C154.1,181.8 155.8,184.3 155.4,186.6 C155.0,188.8 152.2,191.1 151.7,192.7 C151.2,194.3 151.7,195.2 152.3,196.4 C152.9,197.6 154.3,198.2 155.4,199.7 C156.5,201.2 157.3,203.8 159.0,205.2 C160.7,206.6 163.1,207.3 165.8,208.3 C168.5,209.3 174.4,209.9 175.0,211.3 C175.6,212.7 170.9,215.0 169.5,216.8 C168.1,218.7 168.0,221.1 166.4,222.4 C164.8,223.7 161.9,223.8 159.7,224.8 C157.4,225.8 154.3,227.2 152.9,228.5 C151.5,229.8 150.4,231.0 151.1,232.8 C151.8,234.6 156.8,237.6 157.2,239.5 C157.6,241.4 154.9,242.9 153.5,244.4 C152.1,245.9 149.6,247.4 148.6,248.7 C147.6,250.0 147.3,250.8 147.4,252.4 C147.5,254.0 149.0,255.9 149.2,258.1 C149.4,260.3 149.0,263.1 148.6,265.5 C148.2,267.9 146.5,270.8 146.8,272.8 C147.1,274.9 149.5,276.2 150.5,277.8 C151.5,279.4 152.8,281.1 152.9,282.7 C153.0,284.3 151.0,286.2 151.1,287.6 C151.2,289.0 151.8,290.1 153.5,291.2 C155.2,292.3 158.6,292.9 161.5,294.3 C164.4,295.7 168.4,298.1 170.7,299.8 C172.9,301.5 174.5,303.2 175.0,304.7 C175.5,306.2 174.6,307.9 173.8,309.0 C173.0,310.1 171.9,310.2 170.0,311.0 C168.1,311.8 164.6,312.5 162.1,313.5 C159.6,314.5 156.4,316.1 154.8,317.2 C153.2,318.3 152.6,319.0 152.3,320.3 C152.0,321.6 153.4,323.7 152.9,325.2 C152.4,326.7 150.5,328.1 149.2,329.5 C147.9,330.9 145.3,332.3 144.9,333.8 C144.5,335.3 146.3,336.9 146.8,338.7 C147.3,340.5 147.7,342.6 148.0,344.8 C148.3,347.0 148.5,349.7 148.6,352.1 C148.7,354.6 148.5,357.5 148.6,359.5 C148.7,361.5 149.2,362.0 149.2,364.0 C149.2,366.0 148.8,368.8 148.6,371.4 C148.4,374.0 148.0,376.4 148.0,379.9 C148.0,383.4 147.8,388.9 148.6,392.2 C149.4,395.5 151.7,396.6 152.9,399.6 C154.1,402.6 155.9,407.4 156.0,410.0 C156.1,412.6 153.9,414.0 153.5,415.5 C153.1,417.0 152.7,417.6 153.5,419.2 C154.3,420.8 157.5,422.7 158.4,424.9 C159.3,427.1 159.0,429.9 159.0,432.3 C159.0,434.8 159.1,437.2 158.4,439.6 C157.7,442.0 156.1,444.2 154.8,446.4 C153.5,448.5 150.5,450.4 150.5,452.5 C150.5,454.6 154.6,457.5 154.8,459.2 C155.0,460.9 153.5,461.7 151.7,462.9 C149.8,464.1 145.8,465.2 143.7,466.4 C141.6,467.6 140.3,468.8 139.4,470.3 C138.5,471.8 138.4,473.4 138.2,475.2 C138.0,476.9 137.8,478.9 138.2,480.8 C138.6,482.7 139.5,484.5 140.6,486.4 C141.7,488.2 142.8,490.2 144.9,491.9 C147.1,493.6 151.8,495.6 153.5,496.8 C155.2,498.0 155.5,498.2 155.4,499.2 C155.3,500.2 153.2,501.7 152.9,502.9 C152.6,504.1 152.7,505.2 153.5,506.6 C154.3,508.0 157.1,510.3 157.8,511.0" fill="none" stroke="#111" stroke-width="1.35" stroke-linejoin="round"/>
<path d="M142.5,85.2 C141.7,85.5 138.8,86.4 137.6,87.1 C136.4,87.8 135.6,88.4 135.4,89.5 C135.2,90.6 136.3,91.6 136.6,93.8 C136.9,96.0 137.0,99.3 137.0,102.4 C137.0,105.5 136.5,109.3 136.6,112.2 C136.7,115.1 136.7,117.8 137.3,119.6 C137.9,121.4 139.0,122.3 140.0,123.2 C141.0,124.1 141.6,124.4 143.5,125.0 C145.4,125.6 149.1,126.4 151.7,126.8 C154.3,127.2 157.1,127.3 159.3,127.6 C161.5,127.9 164.0,128.1 165.1,128.5 C166.2,128.9 166.5,129.8 165.7,130.3 C164.9,130.8 162.2,130.9 160.4,131.4 C158.7,131.9 156.8,132.5 155.2,133.2 C153.6,133.9 151.9,134.7 151.1,135.5 C150.3,136.3 150.1,137.0 150.5,137.8 C150.9,138.6 152.2,139.4 153.4,140.2 C154.6,141.0 157.0,141.7 157.5,142.5 C158.0,143.3 157.1,143.9 156.4,144.9 C155.7,145.9 154.3,147.2 153.4,148.4 C152.5,149.6 151.5,150.4 151.1,152.3 C150.7,154.2 151.9,157.6 151.1,159.6 C150.3,161.6 147.5,162.9 146.2,164.5 C144.9,166.1 143.4,167.3 143.1,169.4 C142.8,171.5 144.2,174.4 144.3,176.8 C144.4,179.2 143.7,181.7 143.7,184.1 C143.7,186.5 143.7,189.4 144.3,191.5 C144.9,193.6 146.3,195.2 147.4,196.4 C148.5,197.6 149.1,197.8 151.1,198.5 C153.1,199.2 156.9,199.8 159.7,200.3 C162.4,200.8 167.2,200.8 167.6,201.5 C168.0,202.2 163.7,203.3 162.1,204.6 C160.5,205.9 159.1,207.5 157.8,209.5 C156.5,211.5 154.6,214.4 154.1,216.8 C153.6,219.2 155.3,221.9 154.8,224.2 C154.3,226.4 151.3,228.2 151.1,230.3 C150.9,232.4 152.4,234.2 153.5,236.5 C154.6,238.8 157.3,241.6 157.8,243.8 C158.3,246.1 157.1,247.8 156.6,250.0 C156.1,252.2 154.5,254.9 154.8,256.9 C155.1,258.9 156.2,260.4 158.4,261.8 C160.6,263.2 165.3,264.4 168.2,265.5 C171.1,266.6 175.4,267.4 175.6,268.6 C175.8,269.8 171.9,271.3 169.5,272.8 C167.1,274.3 161.5,276.4 160.9,277.8 C160.3,279.2 163.2,280.4 165.8,281.4 C168.5,282.4 174.1,283.2 176.8,283.9 C179.6,284.6 182.5,284.8 182.3,285.7 C182.1,286.6 178.6,288.3 175.6,289.4 C172.6,290.5 167.5,291.4 164.6,292.5 C161.7,293.6 159.4,294.7 158.4,296.1 C157.4,297.5 158.3,299.6 158.4,301.0 C158.5,302.4 159.0,303.0 159.0,304.7 C159.0,306.4 157.5,309.3 158.4,311.1 C159.3,312.9 163.0,314.1 164.6,315.4 C166.2,316.7 166.6,318.0 168.2,319.0 C169.8,320.0 174.4,320.0 174.4,321.5 C174.4,323.0 168.2,326.4 168.2,328.2 C168.2,330.0 172.9,331.4 174.4,332.5 C175.9,333.6 177.1,334.4 177.4,335.0 C177.7,335.6 175.8,335.5 176.0,336.2 C176.2,336.9 176.9,338.1 178.9,339.1 C180.9,340.1 184.8,340.9 188.2,342.0 C191.6,343.1 199.0,344.4 199.2,345.4 C199.4,346.4 192.5,347.0 189.4,347.8 C186.3,348.6 181.1,349.1 180.7,350.1 C180.3,351.1 184.7,352.5 187.0,353.6 C189.3,354.7 194.4,355.6 194.6,356.5 C194.8,357.4 190.3,358.2 188.2,358.8 C186.1,359.4 182.6,359.3 181.8,359.9 C181.0,360.5 183.0,361.3 183.6,362.3 C184.2,363.3 184.3,364.8 185.3,365.7 C186.3,366.6 189.2,366.8 189.4,367.5 C189.6,368.2 186.9,368.8 186.5,369.8 C186.1,370.8 186.5,372.2 187.0,373.3 C187.5,374.4 187.5,375.4 189.4,376.2 C191.3,377.0 195.9,377.3 198.6,377.9 C201.3,378.5 205.4,378.9 205.6,379.7 C205.8,380.5 202.7,381.7 199.8,382.6 C196.9,383.5 190.4,384.3 188.2,384.9 C186.0,385.5 187.2,385.4 186.5,386.0 C185.8,386.6 185.1,387.6 184.1,388.4 C183.1,389.2 182.5,389.7 180.7,390.7 C178.9,391.7 174.0,392.6 173.1,394.2 C172.2,395.8 175.6,398.5 175.0,400.2 C174.4,401.9 170.5,402.4 169.5,404.5 C168.5,406.6 170.5,410.8 168.9,413.0 C167.3,415.2 161.6,416.8 159.7,418.0 C157.8,419.2 158.7,419.1 157.2,420.0 C155.7,420.9 151.8,422.3 150.5,423.7 C149.2,425.1 148.8,426.8 149.2,428.6 C149.6,430.4 152.5,432.4 152.9,434.7 C153.3,436.9 151.8,439.7 151.7,442.1 C151.6,444.6 152.8,447.5 152.3,449.4 C151.8,451.3 148.4,452.3 148.6,453.7 C148.8,455.1 152.7,456.7 153.5,458.0 C154.3,459.3 155.1,460.5 153.5,461.7 C151.9,462.9 146.5,464.4 143.7,465.4 C140.8,466.4 138.2,466.6 136.4,467.8 C134.6,469.0 133.3,470.1 132.7,472.5 C132.1,474.9 132.2,479.6 132.6,482.0 C133.0,484.4 134.1,485.7 135.1,487.0 C136.1,488.3 137.7,488.6 138.8,490.0 C139.9,491.4 141.2,493.7 141.9,495.6 C142.6,497.6 142.5,500.0 143.1,501.7 C143.7,503.4 144.1,504.5 145.6,506.0 C147.1,507.5 151.2,509.8 152.3,510.5" fill="none" stroke="#1f1fe8" stroke-width="1.35" stroke-linejoin="round"/>
<path d="M227.1,85.0 C226.7,86.5 225.5,90.6 224.6,93.7 C223.7,96.8 222.3,100.2 221.7,103.4 C221.0,106.6 220.7,109.8 220.7,113.0 C220.7,116.2 220.9,120.0 221.7,122.7 C222.5,125.5 225.3,127.2 225.5,129.5 C225.7,131.8 223.4,132.9 222.6,136.3 C221.8,139.7 220.2,146.9 220.7,149.8 C221.2,152.7 224.1,152.2 225.5,153.7 C226.9,155.1 229.2,156.6 229.0,158.5 C228.8,160.4 225.0,162.9 224.6,165.3 C224.2,167.7 226.3,170.6 226.5,173.0 C226.7,175.4 226.2,177.6 225.9,180.0 C225.6,182.4 225.1,185.1 224.6,187.7 C224.1,190.3 222.9,192.9 223.2,195.5 C223.5,198.1 225.3,200.9 226.5,203.2 C227.7,205.4 228.3,207.6 230.4,209.0 C232.5,210.4 236.4,210.9 239.1,211.9 C241.8,212.9 245.4,213.0 246.8,214.8 C248.2,216.6 247.8,219.8 247.8,222.6 C247.8,225.3 245.8,228.9 246.8,231.3 C247.8,233.7 253.9,235.3 253.6,237.1 C253.3,238.9 248.0,240.1 244.9,241.9 C241.8,243.7 236.2,245.9 235.2,247.7 C234.2,249.5 237.3,251.0 239.1,252.6 C240.9,254.2 243.7,255.3 245.9,257.4 C248.2,259.5 250.5,263.1 252.6,265.2 C254.7,267.3 256.8,268.4 258.4,270.0 C260.0,271.6 259.4,273.2 262.3,274.8 C265.2,276.4 271.5,278.4 275.9,279.7 C280.2,281.0 285.3,281.6 288.4,282.6 C291.5,283.6 294.1,284.4 294.3,285.5 C294.5,286.6 292.8,288.3 289.4,289.4 C286.0,290.5 279.1,291.5 273.9,292.3 C268.7,293.1 262.6,293.2 258.4,294.2 C254.2,295.2 251.1,296.2 248.8,298.1 C246.5,300.0 244.8,303.7 244.5,305.8 C244.2,307.9 244.8,309.0 246.8,310.6 C248.8,312.2 253.3,314.0 256.5,315.5 C259.7,317.0 264.4,317.9 266.2,319.4 C268.0,320.8 265.6,322.9 267.2,324.2 C268.8,325.5 273.2,326.0 275.9,327.1 C278.6,328.2 282.6,329.6 283.6,331.0 C284.6,332.4 284.3,334.4 281.7,335.8 C279.1,337.2 270.8,338.4 268.1,339.7 C265.5,341.0 266.0,341.6 265.8,343.5 C265.6,345.4 266.6,348.7 267.2,351.3 C267.8,353.9 269.6,356.6 269.1,359.0 C268.6,361.4 265.4,363.4 264.3,365.8 C263.2,368.2 261.9,371.4 262.7,373.7 C263.5,376.0 268.4,377.4 269.1,379.5 C269.9,381.6 268.1,383.6 267.2,386.3 C266.3,389.1 263.6,393.1 263.9,396.0 C264.2,398.9 267.8,401.4 269.1,403.7 C270.5,405.9 272.6,407.6 272.0,409.5 C271.4,411.4 267.7,413.1 265.2,414.9 C262.7,416.7 259.4,418.6 257.1,420.3 C254.9,422.0 252.7,423.6 251.7,425.1 C250.7,426.6 251.4,427.4 251.0,429.1 C250.6,430.8 249.8,433.3 249.0,435.2 C248.2,437.1 246.7,438.9 246.3,440.7 C246.0,442.5 247.5,444.3 246.9,446.1 C246.3,447.9 244.0,449.7 242.9,451.5 C241.8,453.3 240.9,455.4 240.6,456.9 C240.2,458.4 240.1,459.3 240.8,460.3 C241.5,461.3 245.4,462.3 244.9,463.0 C244.4,463.7 240.3,463.9 238.1,464.4 C235.8,464.9 234.5,465.5 231.4,466.1 C228.3,466.8 222.1,467.2 219.4,468.3 C216.7,469.4 215.9,470.8 215.3,472.8 C214.7,474.8 215.1,478.1 215.7,480.2 C216.3,482.3 216.6,483.7 218.7,485.4 C220.8,487.1 225.6,489.0 228.4,490.6 C231.2,492.2 233.7,493.5 235.8,495.1 C237.9,496.7 240.9,498.8 241.0,500.3 C241.1,501.8 236.6,502.3 236.6,504.0 C236.6,505.7 240.3,509.4 241.0,510.5" fill="none" stroke="#e8202a" stroke-width="1.6" stroke-linejoin="round" stroke-dasharray="7,2.2"/>
<path d="M331.0,85.2 C331.4,85.8 332.9,87.1 333.4,88.9 C333.9,90.8 333.9,94.2 333.8,96.3 C333.7,98.3 333.8,99.8 332.8,101.2 C331.8,102.6 329.3,103.5 327.9,104.8 C326.5,106.1 325.1,107.2 324.2,109.1 C323.3,110.9 323.0,114.0 322.4,115.9 C321.8,117.9 321.0,119.2 320.5,120.8 C320.0,122.4 318.9,124.0 319.3,125.7 C319.7,127.4 323.6,129.7 323.0,131.2 C322.4,132.7 317.9,133.6 315.6,134.9 C313.4,136.2 311.2,137.5 309.5,139.2 C307.8,140.9 306.6,142.7 305.2,144.9 C303.8,147.1 300.8,150.2 300.9,152.3 C301.0,154.4 304.1,155.6 305.8,157.2 C307.5,158.8 309.6,160.3 311.3,162.1 C313.0,163.9 314.1,166.6 316.2,168.2 C318.3,169.8 321.7,170.7 324.2,171.9 C326.7,173.1 329.6,174.4 331.0,175.6 C332.4,176.8 332.3,177.6 332.8,179.2 C333.3,180.8 334.4,183.6 334.0,185.4 C333.6,187.2 331.6,188.9 330.3,190.3 C329.0,191.7 326.8,192.9 326.0,194.0 C325.2,195.1 325.2,195.8 325.4,197.0 C325.6,198.2 328.1,199.6 327.3,200.9 C326.5,202.2 322.9,203.3 320.5,204.6 C318.1,205.9 314.2,207.5 313.2,208.9 C312.2,210.3 315.0,211.4 314.4,213.2 C313.8,215.0 310.5,217.9 309.5,219.9 C308.5,221.9 308.1,223.5 308.3,225.4 C308.5,227.3 308.9,229.8 310.7,231.6 C312.5,233.4 318.1,234.9 319.3,236.5 C320.5,238.1 319.5,239.8 318.1,241.4 C316.7,243.0 311.9,244.7 310.7,246.3 C309.5,247.9 310.4,249.6 310.7,251.2 C311.0,252.8 312.1,254.8 312.5,256.0 C312.9,257.1 313.2,256.5 313.2,258.1 C313.2,259.7 313.0,263.1 312.6,265.5 C312.2,267.9 310.5,269.9 310.7,272.8 C310.9,275.7 313.8,280.0 313.8,282.7 C313.8,285.4 312.3,286.8 310.7,288.8 C309.1,290.8 305.9,293.3 304.0,294.9 C302.1,296.5 300.1,297.2 299.1,298.6 C298.1,300.0 297.6,301.3 297.8,303.5 C298.0,305.7 299.5,310.2 300.3,312.0 C301.1,313.8 302.1,312.7 302.7,314.1 C303.3,315.5 304.3,318.2 304.0,320.3 C303.7,322.4 301.8,323.8 300.9,326.4 C300.0,329.0 299.2,333.5 298.5,336.2 C297.8,338.9 296.8,340.2 296.8,342.3 C296.8,344.4 297.9,346.1 298.5,348.5 C299.1,350.9 300.1,354.8 300.3,357.0 C300.5,359.2 299.9,360.8 299.7,362.0 C299.5,363.2 299.5,362.6 299.1,364.0 C298.7,365.4 297.5,367.0 297.2,370.1 C296.9,373.2 296.8,379.1 297.2,382.4 C297.6,385.7 299.0,387.1 299.7,389.8 C300.4,392.5 300.7,394.8 301.5,398.3 C302.3,401.8 302.7,407.9 304.6,410.6 C306.6,413.3 309.9,413.3 313.2,414.3 C316.5,415.3 320.7,415.8 324.2,416.7 C327.7,417.6 331.8,418.9 334.0,419.8 C336.2,420.7 335.9,421.0 337.7,421.8 C339.5,422.6 342.4,423.8 345.0,424.9 C347.6,426.0 350.3,427.5 353.6,428.6 C356.9,429.7 361.6,430.5 364.7,431.6 C367.8,432.7 371.6,434.0 372.0,435.3 C372.4,436.6 369.4,438.1 367.1,439.6 C364.9,441.1 360.5,442.9 358.5,444.5 C356.5,446.1 355.8,447.5 354.9,449.4 C354.0,451.2 353.2,453.8 353.0,455.6 C352.8,457.5 353.6,459.1 353.6,460.5 C353.6,461.9 352.5,462.7 353.0,464.1 C353.5,465.6 355.9,467.8 356.7,469.2 C357.5,470.6 357.5,465.2 357.6,472.3 C357.8,479.4 357.6,505.0 357.6,511.5" fill="none" stroke="#111" stroke-width="1.35" stroke-linejoin="round"/>
<path d="M308.3,85.2 C308.0,86.2 307.0,89.2 306.4,91.4 C305.8,93.7 305.4,96.2 304.6,98.7 C303.8,101.2 302.1,103.6 301.5,106.1 C300.9,108.5 301.0,110.6 301.2,113.4 C301.4,116.2 301.5,120.3 302.7,123.2 C303.9,126.1 307.7,128.3 308.3,130.6 C308.9,132.8 306.8,135.1 306.4,136.7 C306.0,138.3 306.0,138.6 305.8,140.0 C305.6,141.4 305.7,143.1 305.2,144.9 C304.7,146.7 302.7,149.3 302.7,151.0 C302.7,152.7 303.9,153.8 305.2,155.3 C306.5,156.8 309.9,158.8 310.7,160.2 C311.5,161.6 310.8,162.6 310.1,163.9 C309.4,165.2 306.7,166.2 306.4,168.2 C306.1,170.1 308.2,172.9 308.3,175.6 C308.4,178.2 307.5,181.0 307.0,184.1 C306.5,187.2 305.6,192.0 305.2,194.0 C304.8,196.0 304.5,194.7 304.6,196.0 C304.7,197.3 305.3,200.0 305.8,202.1 C306.3,204.2 306.0,206.7 307.6,208.3 C309.2,209.9 312.8,210.9 315.6,211.9 C318.4,212.9 322.1,212.6 324.2,214.4 C326.2,216.2 327.5,219.9 327.9,223.0 C328.3,226.1 326.3,230.4 326.7,232.8 C327.1,235.2 330.5,236.3 330.3,237.7 C330.1,239.1 327.6,240.0 325.4,241.4 C323.1,242.8 318.3,244.9 316.8,246.3 C315.3,247.7 315.8,249.1 316.2,250.0 C316.6,250.9 317.4,251.2 319.3,252.0 C321.2,252.8 325.2,253.7 327.3,255.1 C329.4,256.5 329.9,258.7 331.6,260.6 C333.3,262.5 335.7,264.4 337.7,266.7 C339.7,268.9 341.4,272.2 343.8,274.1 C346.2,276.0 348.9,276.8 352.4,277.8 C355.9,278.8 360.3,279.2 364.7,280.2 C369.1,281.2 376.6,282.5 379.0,283.9 C381.4,285.3 381.4,287.4 379.0,288.8 C376.6,290.2 369.9,291.3 364.7,292.5 C359.4,293.7 352.8,295.1 347.5,296.1 C342.2,297.1 336.4,297.6 332.8,298.6 C329.2,299.6 327.6,300.9 326.0,302.3 C324.4,303.7 323.6,306.2 323.0,307.2 C322.4,308.1 322.3,307.1 322.4,308.0 C322.5,308.9 322.5,311.5 323.6,312.9 C324.7,314.3 326.7,315.5 329.1,316.6 C331.6,317.7 336.2,318.4 338.3,319.6 C340.4,320.8 339.4,322.6 341.4,323.9 C343.3,325.2 347.1,326.1 350.0,327.6 C352.9,329.1 357.9,331.6 358.5,333.1 C359.1,334.6 355.9,335.6 353.6,336.8 C351.4,338.0 346.6,338.8 345.0,340.5 C343.4,342.2 343.5,344.4 343.8,347.2 C344.1,349.9 346.5,354.5 346.9,357.0 C347.3,359.5 346.6,360.8 346.3,362.0 C346.0,363.2 345.7,363.1 345.0,364.0 C344.3,364.9 342.6,366.1 342.0,367.7 C341.4,369.3 341.5,372.2 341.4,373.8 C341.3,375.4 340.7,376.1 341.4,377.5 C342.1,378.9 344.9,380.1 345.7,382.4 C346.5,384.6 346.6,388.0 346.3,391.0 C346.0,394.0 342.9,397.3 343.8,400.2 C344.7,403.1 351.2,405.6 351.8,408.1 C352.4,410.7 348.9,413.5 347.5,415.5 C346.1,417.5 344.8,418.8 343.2,420.0 C341.6,421.2 339.8,421.5 337.7,422.5 C335.6,423.5 332.4,424.3 330.3,426.1 C328.2,427.9 326.9,430.8 325.4,433.5 C323.9,436.2 322.1,439.7 321.1,442.1 C320.1,444.6 319.5,445.8 319.3,448.2 C319.1,450.6 319.8,453.7 319.9,456.8 C320.0,459.9 320.0,464.1 319.9,466.6 C319.8,469.1 319.4,464.5 319.3,472.0 C319.2,479.5 319.3,504.9 319.3,511.5" fill="none" stroke="#1f1fe8" stroke-width="1.35" stroke-linejoin="round"/>
<path d="M303.4,85.2 C303.2,86.6 302.6,90.9 302.1,93.8 C301.7,96.7 301.0,99.3 300.7,102.4 C300.4,105.5 300.2,109.1 300.3,112.2 C300.4,115.3 300.8,117.9 301.2,120.8 C301.6,123.7 302.6,127.0 302.7,129.4 C302.8,131.8 301.8,133.7 301.5,135.5 C301.2,137.3 301.3,138.2 301.2,140.0 C301.1,141.8 300.8,144.0 300.9,146.1 C300.9,148.2 300.7,150.2 301.5,152.3 C302.3,154.4 304.8,156.8 305.8,158.4 C306.8,160.0 307.9,160.9 307.6,162.1 C307.3,163.3 304.8,164.2 304.0,165.8 C303.2,167.4 303.1,169.5 302.7,171.9 C302.3,174.3 301.8,177.7 301.5,180.5 C301.2,183.3 300.8,186.3 300.7,189.0 C300.6,191.7 300.4,194.4 300.8,196.4 C301.2,198.4 302.1,199.1 303.4,200.9 C304.6,202.7 306.7,205.4 308.3,207.0 C309.9,208.6 310.9,209.8 313.2,210.7 C315.4,211.6 319.4,211.6 321.8,212.6 C324.2,213.6 327.1,214.9 327.9,216.8 C328.7,218.7 327.0,221.7 326.7,224.2 C326.4,226.7 325.0,229.2 326.0,231.6 C327.0,233.9 332.9,236.5 332.8,238.3 C332.7,240.1 327.8,241.4 325.4,242.6 C322.9,243.8 319.7,244.5 318.1,245.7 C316.5,246.9 315.5,248.9 315.6,250.0 C315.7,251.1 317.7,251.1 318.7,252.0 C319.7,252.9 320.7,253.9 321.8,255.7 C322.9,257.5 324.0,260.8 325.4,263.0 C326.8,265.2 328.9,266.9 330.3,269.2 C331.7,271.4 331.9,274.8 334.0,276.5 C336.1,278.2 339.3,278.6 342.6,279.6 C345.9,280.6 350.6,281.5 353.6,282.7 C356.6,283.9 360.2,285.6 360.4,286.9 C360.6,288.2 357.9,289.5 354.9,290.6 C351.9,291.7 346.5,292.8 342.6,293.7 C338.7,294.6 334.4,295.1 331.6,296.1 C328.8,297.1 327.1,298.4 326.0,299.8 C324.9,301.2 325.2,303.3 324.8,304.7 C324.4,306.1 323.5,306.6 323.6,308.0 C323.7,309.4 324.1,311.5 325.4,312.9 C326.7,314.3 329.4,315.4 331.6,316.6 C333.9,317.8 337.3,318.9 338.9,320.3 C340.5,321.7 339.8,323.7 341.4,325.2 C343.0,326.7 347.1,328.1 348.7,329.5 C350.3,330.9 351.8,332.4 351.2,333.8 C350.6,335.2 346.9,336.8 345.0,338.0 C343.1,339.2 340.6,339.6 339.5,341.1 C338.4,342.6 338.3,344.8 338.3,347.2 C338.3,349.6 339.6,353.3 339.5,355.8 C339.4,358.3 338.0,360.6 337.7,362.0 C337.4,363.4 338.0,362.4 337.7,364.0 C337.4,365.6 336.2,369.1 335.9,371.4 C335.6,373.6 335.0,375.6 335.9,377.5 C336.8,379.4 340.9,380.8 341.4,383.0 C341.9,385.2 339.5,388.2 338.9,391.0 C338.3,393.8 337.2,396.8 337.7,399.6 C338.2,402.5 341.8,405.5 342.0,408.1 C342.2,410.8 340.0,413.4 338.9,415.5 C337.8,417.6 336.8,419.2 335.2,420.6 C333.6,422.0 330.7,422.2 329.1,423.7 C327.5,425.2 326.4,427.4 325.4,429.8 C324.4,432.2 323.7,435.9 323.0,438.4 C322.3,440.8 321.3,442.2 321.1,444.5 C320.9,446.8 321.9,449.2 321.8,451.9 C321.7,454.6 320.6,457.6 320.5,460.5 C320.4,463.4 321.0,467.1 321.1,469.0 C321.2,470.9 321.3,464.9 321.4,472.0 C321.4,479.1 321.4,504.9 321.4,511.5" fill="none" stroke="#e8202a" stroke-width="1.6" stroke-linejoin="round" stroke-dasharray="7,2.2"/>
<path d="M542.2,98.7L545.2,98.7L543.7,96.0ZM541.8,100.4L544.8,100.4L543.3,97.7ZM541.4,102.0L544.4,102.0L542.9,99.3ZM541.0,103.7L544.0,103.7L542.5,101.0ZM540.7,105.4L543.7,105.4L542.2,102.7ZM540.6,107.0L543.6,107.0L542.1,104.3ZM540.5,108.7L543.5,108.7L542.0,106.0ZM540.5,110.4L543.5,110.4L542.0,107.7ZM540.4,112.0L543.4,112.0L541.9,109.3ZM540.6,113.7L543.6,113.7L542.1,111.0ZM540.9,115.4L543.9,115.4L542.4,112.7ZM541.2,117.0L544.2,117.0L542.7,114.3ZM541.5,118.7L544.5,118.7L543.0,116.0ZM542.0,120.3L545.0,120.3L543.5,117.6ZM542.9,122.0L545.9,122.0L544.4,119.3ZM543.7,123.7L546.7,123.7L545.2,121.0ZM545.5,125.3L548.5,125.3L547.0,122.6ZM548.0,127.0L551.0,127.0L549.5,124.3ZM553.2,128.7L556.2,128.7L554.7,126.0ZM552.3,130.3L555.3,130.3L553.8,127.6ZM551.3,132.0L554.3,132.0L552.8,129.3ZM550.5,133.7L553.5,133.7L552.0,131.0ZM549.7,135.3L552.7,135.3L551.2,132.6ZM549.4,137.0L552.4,137.0L550.9,134.3ZM549.2,138.7L552.2,138.7L550.7,136.0ZM549.0,140.3L552.0,140.3L550.5,137.6ZM547.8,142.0L550.8,142.0L549.3,139.3ZM546.5,143.7L549.5,143.7L548.0,141.0ZM545.2,145.3L548.2,145.3L546.7,142.6ZM543.6,147.0L546.6,147.0L545.1,144.3ZM542.1,148.7L545.1,148.7L543.6,146.0ZM541.3,150.3L544.3,150.3L542.8,147.6ZM542.1,152.0L545.1,152.0L543.6,149.3ZM543.1,153.6L546.1,153.6L544.6,150.9ZM546.5,155.3L549.5,155.3L548.0,152.6ZM548.1,157.0L551.1,157.0L549.6,154.3ZM548.7,158.6L551.7,158.6L550.2,155.9ZM548.3,160.3L551.3,160.3L549.8,157.6ZM546.6,162.0L549.6,162.0L548.1,159.3ZM545.0,163.6L548.0,163.6L546.5,160.9ZM543.9,165.3L546.9,165.3L545.4,162.6ZM543.4,167.0L546.4,167.0L544.9,164.3ZM543.0,168.6L546.0,168.6L544.5,165.9ZM543.1,170.3L546.1,170.3L544.6,167.6ZM543.6,172.0L546.6,172.0L545.1,169.3ZM544.1,173.6L547.1,173.6L545.6,170.9ZM544.6,175.3L547.6,175.3L546.1,172.6ZM544.6,177.0L547.6,177.0L546.1,174.3ZM544.4,178.6L547.4,178.6L545.9,175.9ZM544.3,180.3L547.3,180.3L545.8,177.6ZM544.2,181.9L547.2,181.9L545.7,179.2ZM544.0,183.6L547.0,183.6L545.5,180.9ZM543.7,185.3L546.7,185.3L545.2,182.6ZM543.4,186.9L546.4,186.9L544.9,184.2ZM543.1,188.6L546.1,188.6L544.6,185.9ZM542.8,190.3L545.8,190.3L544.3,187.6ZM543.0,191.9L546.0,191.9L544.5,189.2ZM543.2,193.6L546.2,193.6L544.7,190.9ZM543.4,195.3L546.4,195.3L544.9,192.6ZM544.3,196.9L547.3,196.9L545.8,194.2ZM546.8,198.6L549.8,198.6L548.3,195.9ZM550.5,200.3L553.5,200.3L552.0,197.6ZM554.7,201.9L557.7,201.9L556.2,199.2ZM554.3,203.6L557.3,203.6L555.8,200.9ZM553.5,205.3L556.5,205.3L555.0,202.6ZM552.6,206.9L555.6,206.9L554.1,204.2ZM552.9,208.6L555.9,208.6L554.4,205.9ZM553.2,210.3L556.2,210.3L554.7,207.6ZM554.3,211.9L557.3,211.9L555.8,209.2ZM555.6,213.6L558.6,213.6L557.1,210.9ZM556.4,215.2L559.4,215.2L557.9,212.5ZM556.6,216.9L559.6,216.9L558.1,214.2ZM556.8,218.6L559.8,218.6L558.3,215.9ZM557.0,220.2L560.0,220.2L558.5,217.5ZM557.3,221.9L560.3,221.9L558.8,219.2ZM557.5,223.6L560.5,223.6L559.0,220.9ZM557.8,225.2L560.8,225.2L559.3,222.5ZM558.0,226.9L561.0,226.9L559.5,224.2ZM558.4,228.6L561.4,228.6L559.9,225.9ZM558.8,230.2L561.8,230.2L560.3,227.5ZM559.2,231.9L562.2,231.9L560.7,229.2ZM559.6,233.6L562.6,233.6L561.1,230.9ZM560.0,235.2L563.0,235.2L561.5,232.5ZM560.4,236.9L563.4,236.9L561.9,234.2ZM560.0,238.6L563.0,238.6L561.5,235.9ZM558.7,240.2L561.7,240.2L560.2,237.5ZM557.4,241.9L560.4,241.9L558.9,239.2ZM556.2,243.6L559.2,243.6L557.7,240.9ZM555.0,245.2L558.0,245.2L556.5,242.5ZM553.8,246.9L556.8,246.9L555.3,244.2ZM553.6,248.5L556.6,248.5L555.1,245.8ZM554.2,250.2L557.2,250.2L555.7,247.5ZM555.5,251.9L558.5,251.9L557.0,249.2ZM557.7,253.5L560.7,253.5L559.2,250.8ZM558.9,255.2L561.9,255.2L560.4,252.5ZM560.0,256.9L563.0,256.9L561.5,254.2ZM561.4,258.5L564.4,258.5L562.9,255.8ZM562.8,260.2L565.8,260.2L564.3,257.5ZM565.2,261.9L568.2,261.9L566.7,259.2ZM567.9,263.5L570.9,263.5L569.4,260.8ZM569.9,265.2L572.9,265.2L571.4,262.5ZM571.7,266.9L574.7,266.9L573.2,264.2ZM572.2,268.5L575.2,268.5L573.7,265.8ZM572.8,270.2L575.8,270.2L574.3,267.5ZM572.5,271.9L575.5,271.9L574.0,269.2ZM572.1,273.5L575.1,273.5L573.6,270.8ZM571.6,275.2L574.6,275.2L573.1,272.5ZM573.4,276.9L576.4,276.9L574.9,274.2ZM575.3,278.5L578.3,278.5L576.8,275.8ZM581.8,280.2L584.8,280.2L583.3,277.5ZM586.3,281.8L589.3,281.8L587.8,279.1ZM590.6,283.5L593.6,283.5L592.1,280.8ZM594.1,285.2L597.1,285.2L595.6,282.5ZM593.3,286.8L596.3,286.8L594.8,284.1ZM591.7,288.5L594.7,288.5L593.2,285.8ZM587.0,290.2L590.0,290.2L588.5,287.5ZM581.4,291.8L584.4,291.8L582.9,289.1ZM573.8,293.5L576.8,293.5L575.3,290.8ZM566.9,295.2L569.9,295.2L568.4,292.5ZM562.3,296.8L565.3,296.8L563.8,294.1ZM560.8,298.5L563.8,298.5L562.3,295.8ZM560.1,300.2L563.1,300.2L561.6,297.5ZM559.5,301.8L562.5,301.8L561.0,299.1ZM558.9,303.5L561.9,303.5L560.4,300.8ZM558.3,305.2L561.3,305.2L559.8,302.5ZM557.6,306.8L560.6,306.8L559.1,304.1ZM558.4,308.5L561.4,308.5L559.9,305.8ZM559.6,310.2L562.6,310.2L561.1,307.5ZM563.3,311.8L566.3,311.8L564.8,309.1ZM566.7,313.5L569.7,313.5L568.2,310.8ZM569.6,315.2L572.6,315.2L571.1,312.5ZM572.0,316.8L575.0,316.8L573.5,314.1ZM573.9,318.5L576.9,318.5L575.4,315.8ZM574.9,320.1L577.9,320.1L576.4,317.4ZM576.0,321.8L579.0,321.8L577.5,319.1ZM577.1,323.5L580.1,323.5L578.6,320.8ZM578.5,325.1L581.5,325.1L580.0,322.4ZM579.9,326.8L582.9,326.8L581.4,324.1ZM581.2,328.5L584.2,328.5L582.7,325.8ZM583.0,330.1L586.0,330.1L584.5,327.4ZM584.9,331.8L587.9,331.8L586.4,329.1ZM586.0,333.5L589.0,333.5L587.5,330.8ZM584.4,335.1L587.4,335.1L585.9,332.4ZM582.7,336.8L585.7,336.8L584.2,334.1ZM582.1,338.5L585.1,338.5L583.6,335.8ZM582.1,340.1L585.1,340.1L583.6,337.4ZM583.0,341.8L586.0,341.8L584.5,339.1ZM585.1,343.5L588.1,343.5L586.6,340.8ZM587.2,345.1L590.2,345.1L588.7,342.4ZM585.4,346.8L588.4,346.8L586.9,344.1ZM582.8,348.5L585.8,348.5L584.3,345.8ZM581.3,350.1L584.3,350.1L582.8,347.4ZM583.4,351.8L586.4,351.8L584.9,349.1ZM585.5,353.4L588.5,353.4L587.0,350.7ZM586.6,355.1L589.6,355.1L588.1,352.4ZM585.4,356.8L588.4,356.8L586.9,354.1ZM584.1,358.4L587.1,358.4L585.6,355.7ZM583.1,360.1L586.1,360.1L584.6,357.4ZM582.6,361.8L585.6,361.8L584.1,359.1ZM582.1,363.4L585.1,363.4L583.6,360.7ZM581.5,365.1L584.5,365.1L583.0,362.4ZM581.3,366.8L584.3,366.8L582.8,364.1ZM581.1,368.4L584.1,368.4L582.6,365.7ZM580.9,370.1L583.9,370.1L582.4,367.4ZM581.0,371.8L584.0,371.8L582.5,369.1ZM581.5,373.4L584.5,373.4L583.0,370.7ZM582.1,375.1L585.1,375.1L583.6,372.4ZM582.7,376.8L585.7,376.8L584.2,374.1ZM587.2,378.4L590.2,378.4L588.7,375.7ZM590.5,380.1L593.5,380.1L592.0,377.4ZM588.4,381.8L591.4,381.8L589.9,379.1ZM586.4,383.4L589.4,383.4L587.9,380.7ZM584.4,385.1L587.4,385.1L585.9,382.4ZM582.8,386.7L585.8,386.7L584.3,384.0ZM581.8,388.4L584.8,388.4L583.3,385.7ZM580.8,390.1L583.8,390.1L582.3,387.4ZM579.3,391.7L582.3,391.7L580.8,389.0ZM577.3,393.4L580.3,393.4L578.8,390.7ZM575.8,395.1L578.8,395.1L577.3,392.4ZM575.4,396.7L578.4,396.7L576.9,394.0ZM575.0,398.4L578.0,398.4L576.5,395.7ZM575.0,400.1L578.0,400.1L576.5,397.4ZM575.8,401.7L578.8,401.7L577.3,399.0ZM576.5,403.4L579.5,403.4L578.0,400.7ZM576.1,405.1L579.1,405.1L577.6,402.4ZM575.8,406.7L578.8,406.7L577.3,404.0ZM575.5,408.4L578.5,408.4L577.0,405.7ZM574.7,410.1L577.7,410.1L576.2,407.4ZM573.5,411.7L576.5,411.7L575.0,409.0ZM572.2,413.4L575.2,413.4L573.7,410.7ZM570.5,415.1L573.5,415.1L572.0,412.4ZM568.3,416.7L571.3,416.7L569.8,414.0ZM566.2,418.4L569.2,418.4L567.7,415.7ZM564.6,420.0L567.6,420.0L566.1,417.3ZM563.0,421.7L566.0,421.7L564.5,419.0ZM561.4,423.4L564.4,423.4L562.9,420.7ZM560.0,425.0L563.0,425.0L561.5,422.3ZM559.8,426.7L562.8,426.7L561.3,424.0ZM559.7,428.4L562.7,428.4L561.2,425.7ZM559.5,430.0L562.5,430.0L561.0,427.3ZM559.5,431.7L562.5,431.7L561.0,429.0ZM559.6,433.4L562.6,433.4L561.1,430.7ZM559.8,435.0L562.8,435.0L561.3,432.3ZM560.0,436.7L563.0,436.7L561.5,434.0ZM559.7,438.4L562.7,438.4L561.2,435.7ZM559.4,440.0L562.4,440.0L560.9,437.3ZM559.0,441.7L562.0,441.7L560.5,439.0ZM558.7,443.4L561.7,443.4L560.2,440.7ZM558.3,445.0L561.3,445.0L559.8,442.3ZM557.7,446.7L560.7,446.7L559.2,444.0ZM556.9,448.4L559.9,448.4L558.4,445.7ZM556.0,450.0L559.0,450.0L557.5,447.3ZM555.2,451.7L558.2,451.7L556.7,449.0ZM555.4,453.3L558.4,453.3L556.9,450.6ZM555.7,455.0L558.7,455.0L557.2,452.3ZM556.0,456.7L559.0,456.7L557.5,454.0ZM556.4,458.3L559.4,458.3L557.9,455.6ZM557.0,460.0L560.0,460.0L558.5,457.3ZM557.6,461.7L560.6,461.7L559.1,459.0ZM555.3,463.3L558.3,463.3L556.8,460.6ZM550.8,465.0L553.8,465.0L552.3,462.3ZM544.5,466.7L547.5,466.7L546.0,464.0ZM539.6,468.3L542.6,468.3L541.1,465.6ZM534.5,470.0L537.5,470.0L536.0,467.3ZM532.0,471.7L535.0,471.7L533.5,469.0ZM531.2,473.3L534.2,473.3L532.7,470.6ZM531.6,475.0L534.6,475.0L533.1,472.3ZM531.6,476.7L534.6,476.7L533.1,474.0ZM531.1,478.3L534.1,478.3L532.6,475.6ZM530.7,480.0L533.7,480.0L532.2,477.3ZM530.9,481.7L533.9,481.7L532.4,479.0ZM533.4,483.3L536.4,483.3L534.9,480.6ZM538.4,485.0L541.4,485.0L539.9,482.3ZM541.8,486.6L544.8,486.6L543.3,483.9ZM544.4,488.3L547.4,488.3L545.9,485.6ZM546.4,490.0L549.4,490.0L547.9,487.3ZM547.8,491.6L550.8,491.6L549.3,488.9ZM549.1,493.3L552.1,493.3L550.6,490.6ZM550.2,495.0L553.2,495.0L551.7,492.3ZM551.0,496.6L554.0,496.6L552.5,493.9ZM551.9,498.3L554.9,498.3L553.4,495.6Z" fill="#ff00ff"/>
<path d="M545.8,96.5h2v2h-2ZM545.6,98.2h2v2h-2ZM545.5,99.8h2v2h-2ZM545.3,101.5h2v2h-2ZM545.2,103.2h2v2h-2ZM545.2,104.8h2v2h-2ZM545.2,106.5h2v2h-2ZM545.2,108.2h2v2h-2ZM545.2,109.8h2v2h-2ZM545.4,111.5h2v2h-2ZM545.6,113.2h2v2h-2ZM545.9,114.8h2v2h-2ZM546.1,116.5h2v2h-2ZM546.3,118.1h2v2h-2ZM547.2,119.8h2v2h-2ZM548.2,121.5h2v2h-2ZM549.3,123.1h2v2h-2ZM550.8,124.8h2v2h-2ZM551.7,126.5h2v2h-2ZM551.2,128.1h2v2h-2ZM550.7,129.8h2v2h-2ZM551.2,131.5h2v2h-2ZM551.6,133.1h2v2h-2ZM551.9,134.8h2v2h-2ZM552.2,136.5h2v2h-2ZM552.5,138.1h2v2h-2ZM550.9,139.8h2v2h-2ZM549.2,141.5h2v2h-2ZM547.8,143.1h2v2h-2ZM546.5,144.8h2v2h-2ZM545.2,146.5h2v2h-2ZM545.6,148.1h2v2h-2ZM546.0,149.8h2v2h-2ZM546.7,151.4h2v2h-2ZM549.7,153.1h2v2h-2ZM552.2,154.8h2v2h-2ZM553.2,156.4h2v2h-2ZM553.3,158.1h2v2h-2ZM552.2,159.8h2v2h-2ZM551.1,161.4h2v2h-2ZM550.0,163.1h2v2h-2ZM549.0,164.8h2v2h-2ZM548.2,166.4h2v2h-2ZM548.0,168.1h2v2h-2ZM547.9,169.8h2v2h-2ZM547.8,171.4h2v2h-2ZM547.6,173.1h2v2h-2ZM547.5,174.8h2v2h-2ZM547.3,176.4h2v2h-2ZM547.2,178.1h2v2h-2ZM547.1,179.7h2v2h-2ZM547.0,181.4h2v2h-2ZM547.1,183.1h2v2h-2ZM547.2,184.7h2v2h-2ZM547.3,186.4h2v2h-2ZM547.4,188.1h2v2h-2ZM547.8,189.7h2v2h-2ZM548.2,191.4h2v2h-2ZM548.5,193.1h2v2h-2ZM549.2,194.7h2v2h-2ZM550.4,196.4h2v2h-2ZM552.8,198.1h2v2h-2ZM553.8,199.7h2v2h-2ZM553.8,201.4h2v2h-2ZM553.8,203.1h2v2h-2ZM553.8,204.7h2v2h-2ZM555.1,206.4h2v2h-2ZM556.5,208.1h2v2h-2ZM558.5,209.7h2v2h-2ZM561.5,211.4h2v2h-2ZM563.3,213.0h2v2h-2ZM564.2,214.7h2v2h-2ZM565.0,216.4h2v2h-2ZM565.8,218.0h2v2h-2ZM566.5,219.7h2v2h-2ZM567.2,221.4h2v2h-2ZM567.8,223.0h2v2h-2ZM567.7,224.7h2v2h-2ZM567.5,226.4h2v2h-2ZM567.3,228.0h2v2h-2ZM567.5,229.7h2v2h-2ZM568.6,231.4h2v2h-2ZM569.8,233.0h2v2h-2ZM570.9,234.7h2v2h-2ZM570.9,236.4h2v2h-2ZM569.7,238.0h2v2h-2ZM568.6,239.7h2v2h-2ZM565.3,241.4h2v2h-2ZM563.0,243.0h2v2h-2ZM561.8,244.7h2v2h-2ZM560.6,246.3h2v2h-2ZM561.0,248.0h2v2h-2ZM561.5,249.7h2v2h-2ZM564.4,251.3h2v2h-2ZM565.6,253.0h2v2h-2ZM566.8,254.7h2v2h-2ZM568.1,256.3h2v2h-2ZM569.5,258.0h2v2h-2ZM571.0,259.7h2v2h-2ZM573.4,261.3h2v2h-2ZM575.5,263.0h2v2h-2ZM576.9,264.7h2v2h-2ZM577.9,266.3h2v2h-2ZM578.4,268.0h2v2h-2ZM579.0,269.7h2v2h-2ZM579.5,271.3h2v2h-2ZM580.1,273.0h2v2h-2ZM582.0,274.7h2v2h-2ZM584.5,276.3h2v2h-2ZM589.6,278.0h2v2h-2ZM595.0,279.6h2v2h-2ZM599.6,281.3h2v2h-2ZM602.0,283.0h2v2h-2ZM602.4,284.6h2v2h-2ZM600.1,286.3h2v2h-2ZM597.0,288.0h2v2h-2ZM591.4,289.6h2v2h-2ZM583.8,291.3h2v2h-2ZM577.1,293.0h2v2h-2ZM571.9,294.6h2v2h-2ZM570.1,296.3h2v2h-2ZM568.2,298.0h2v2h-2ZM567.5,299.6h2v2h-2ZM567.0,301.3h2v2h-2ZM566.7,303.0h2v2h-2ZM566.9,304.6h2v2h-2ZM567.3,306.3h2v2h-2ZM568.7,308.0h2v2h-2ZM570.1,309.6h2v2h-2ZM572.9,311.3h2v2h-2ZM576.0,313.0h2v2h-2ZM579.1,314.6h2v2h-2ZM582.1,316.3h2v2h-2ZM583.5,317.9h2v2h-2ZM584.9,319.6h2v2h-2ZM586.3,321.3h2v2h-2ZM587.7,322.9h2v2h-2ZM589.1,324.6h2v2h-2ZM591.4,326.3h2v2h-2ZM593.7,327.9h2v2h-2ZM595.4,329.6h2v2h-2ZM596.5,331.3h2v2h-2ZM595.3,332.9h2v2h-2ZM594.2,334.6h2v2h-2ZM592.2,336.3h2v2h-2ZM590.6,337.9h2v2h-2ZM591.2,339.6h2v2h-2ZM591.9,341.3h2v2h-2ZM592.1,342.9h2v2h-2ZM590.4,344.6h2v2h-2ZM588.7,346.3h2v2h-2ZM587.9,347.9h2v2h-2ZM589.3,349.6h2v2h-2ZM590.8,351.2h2v2h-2ZM591.6,352.9h2v2h-2ZM590.9,354.6h2v2h-2ZM590.2,356.2h2v2h-2ZM589.5,357.9h2v2h-2ZM588.9,359.6h2v2h-2ZM588.2,361.2h2v2h-2ZM587.5,362.9h2v2h-2ZM587.5,364.6h2v2h-2ZM587.5,366.2h2v2h-2ZM587.5,367.9h2v2h-2ZM587.5,369.6h2v2h-2ZM587.7,371.2h2v2h-2ZM588.2,372.9h2v2h-2ZM588.7,374.6h2v2h-2ZM590.9,376.2h2v2h-2ZM592.9,377.9h2v2h-2ZM592.1,379.6h2v2h-2ZM591.2,381.2h2v2h-2ZM590.3,382.9h2v2h-2ZM589.1,384.5h2v2h-2ZM587.8,386.2h2v2h-2ZM586.7,387.9h2v2h-2ZM586.1,389.5h2v2h-2ZM585.4,391.2h2v2h-2ZM584.7,392.9h2v2h-2ZM584.6,394.5h2v2h-2ZM584.9,396.2h2v2h-2ZM585.2,397.9h2v2h-2ZM585.5,399.5h2v2h-2ZM585.9,401.2h2v2h-2ZM586.3,402.9h2v2h-2ZM586.6,404.5h2v2h-2ZM586.7,406.2h2v2h-2ZM585.6,407.9h2v2h-2ZM584.5,409.5h2v2h-2ZM582.3,411.2h2v2h-2ZM580.1,412.9h2v2h-2ZM577.5,414.5h2v2h-2ZM574.8,416.2h2v2h-2ZM572.9,417.8h2v2h-2ZM571.1,419.5h2v2h-2ZM568.1,421.2h2v2h-2ZM566.1,422.8h2v2h-2ZM564.6,424.5h2v2h-2ZM563.9,426.2h2v2h-2ZM563.2,427.8h2v2h-2ZM562.5,429.5h2v2h-2ZM562.1,431.2h2v2h-2ZM561.8,432.8h2v2h-2ZM561.6,434.5h2v2h-2ZM561.3,436.2h2v2h-2ZM561.1,437.8h2v2h-2ZM561.1,439.5h2v2h-2ZM561.1,441.2h2v2h-2ZM561.1,442.8h2v2h-2ZM561.0,444.5h2v2h-2ZM560.9,446.2h2v2h-2ZM560.8,447.8h2v2h-2ZM560.6,449.5h2v2h-2ZM560.5,451.1h2v2h-2ZM560.6,452.8h2v2h-2ZM560.7,454.5h2v2h-2ZM560.9,456.1h2v2h-2ZM561.0,457.8h2v2h-2ZM561.1,459.5h2v2h-2ZM559.1,461.1h2v2h-2ZM557.0,462.8h2v2h-2ZM553.6,464.5h2v2h-2ZM549.8,466.1h2v2h-2ZM546.4,467.8h2v2h-2ZM544.1,469.5h2v2h-2ZM544.1,471.1h2v2h-2ZM544.3,472.8h2v2h-2ZM544.5,474.5h2v2h-2ZM544.1,476.1h2v2h-2ZM543.4,477.8h2v2h-2ZM545.1,479.5h2v2h-2ZM547.8,481.1h2v2h-2ZM551.6,482.8h2v2h-2ZM553.2,484.4h2v2h-2ZM554.7,486.1h2v2h-2ZM555.8,487.8h2v2h-2ZM556.4,489.4h2v2h-2ZM557.0,491.1h2v2h-2ZM557.5,492.8h2v2h-2ZM557.7,494.4h2v2h-2ZM557.8,496.1h2v2h-2Z" fill="#000"/>
<path d="M544.9,172.6L547.3,175.0L544.9,177.4L542.5,175.0ZM545.6,199.7L548.0,202.1L545.6,204.5L543.2,202.1ZM557.6,236.8L560.0,239.2L557.6,241.6L555.2,239.2ZM551.1,244.5L553.5,246.9L551.1,249.3L548.7,246.9ZM560.3,255.5L562.7,257.9L560.3,260.3L557.9,257.9ZM557.4,260.9L559.8,263.3L557.4,265.7L555.0,263.3ZM559.9,263.3L562.3,265.7L559.9,268.1L557.5,265.7ZM562.4,268.6L564.8,271.0L562.4,273.4L560.0,271.0ZM574.4,270.7L576.8,273.1L574.4,275.5L572.0,273.1ZM576.8,278.4L579.2,280.8L576.8,283.2L574.4,280.8ZM581.1,288.8L583.5,291.2L581.1,293.6L578.7,291.2ZM572.9,292.5L575.3,294.9L572.9,297.3L570.5,294.9ZM557.0,306.0L559.4,308.4L557.0,310.8L554.6,308.4ZM566.4,316.9L568.8,319.3L566.4,321.7L564.0,319.3ZM579.9,321.3L582.3,323.7L579.9,326.1L577.5,323.7ZM590.3,325.0L592.7,327.4L590.3,329.8L587.9,327.4ZM591.5,328.9L593.9,331.3L591.5,333.7L589.1,331.3ZM590.9,334.0L593.3,336.4L590.9,338.8L588.5,336.4ZM591.3,349.5L593.7,351.9L591.3,354.3L588.9,351.9ZM589.1,359.3L591.5,361.7L589.1,364.1L586.7,361.7ZM591.8,381.8L594.2,384.2L591.8,386.6L589.4,384.2ZM577.7,403.3L580.1,405.7L577.7,408.1L575.3,405.7ZM567.0,411.3L569.4,413.7L567.0,416.1L564.6,413.7ZM566.8,417.8L569.2,420.2L566.8,422.6L564.4,420.2ZM558.8,432.3L561.2,434.7L558.8,437.1L556.4,434.7ZM557.8,436.6L560.2,439.0L557.8,441.4L555.4,439.0ZM563.1,439.4L565.5,441.8L563.1,444.2L560.7,441.8ZM563.1,468.6L565.5,471.0L563.1,473.4L560.7,471.0ZM532.4,481.1L534.8,483.5L532.4,485.9L530.0,483.5ZM532.4,491.7L534.8,494.1L532.4,496.5L530.0,494.1ZM538.2,507.9L540.6,510.3L538.2,512.7L535.8,510.3ZM553.3,508.9L555.7,511.3L553.3,513.7L550.9,511.3Z" fill="#e00000"/>
<g shape-rendering="crispEdges">
<line x1="129.5" y1="5" x2="129.5" y2="512" stroke="#8a8a8a" stroke-width="1" />
<line x1="212.5" y1="5" x2="212.5" y2="512" stroke="#8a8a8a" stroke-width="1" />
<line x1="296.5" y1="5" x2="296.5" y2="512" stroke="#8a8a8a" stroke-width="1" />
<line x1="379.5" y1="5" x2="379.5" y2="512" stroke="#8a8a8a" stroke-width="1" />
<line x1="429.5" y1="5" x2="429.5" y2="512" stroke="#8a8a8a" stroke-width="1" />
<line x1="529.5" y1="5" x2="529.5" y2="512" stroke="#8a8a8a" stroke-width="1" />
<line x1="613.5" y1="5" x2="613.5" y2="512" stroke="#8a8a8a" stroke-width="1" />
<line x1="6" y1="85.5" x2="680" y2="85.5" stroke="#7a7a7a" stroke-width="1" />
<line x1="46.5" y1="45.5" x2="129.5" y2="45.5" stroke="#888" stroke-width="1" />
<line x1="129.5" y1="31.5" x2="212.5" y2="31.5" stroke="#9a9a9a" stroke-width="1" />
<line x1="129.5" y1="58.5" x2="212.5" y2="58.5" stroke="#9a9a9a" stroke-width="1" />
<line x1="296.5" y1="31.5" x2="379.5" y2="31.5" stroke="#9a9a9a" stroke-width="1" />
<line x1="296.5" y1="58.5" x2="379.5" y2="58.5" stroke="#9a9a9a" stroke-width="1" />
<line x1="529.5" y1="31.5" x2="613.5" y2="31.5" stroke="#9a9a9a" stroke-width="1" />
<line x1="529.5" y1="58.5" x2="613.5" y2="58.5" stroke="#9a9a9a" stroke-width="1" />
</g>
<line x1="46.1" y1="5" x2="46.1" y2="512" stroke="#8f8f8f" stroke-width="1.5" />
<line x1="480" y1="5" x2="480" y2="512" stroke="#9a9a9a" stroke-width="1.4" />
<g shape-rendering="crispEdges">
<rect x="5" y="4" width="676" height="2" fill="#727272"/>
<rect x="5" y="4" width="2" height="509" fill="#505050"/>
<rect x="679" y="4" width="2" height="509" fill="#4a4a4a"/>
<rect x="5" y="511" width="676" height="2" fill="#383838"/>
</g>
<g shape-rendering="crispEdges">
<line x1="7" y1="98.5" x2="13.5" y2="98.5" stroke="#9a9a9a" stroke-width="1" />
<line x1="38.5" y1="98.5" x2="46" y2="98.5" stroke="#9a9a9a" stroke-width="1" />
<line x1="7" y1="111.5" x2="16" y2="111.5" stroke="#b8b8b8" stroke-width="1" />
<line x1="7" y1="125.5" x2="16" y2="125.5" stroke="#999" stroke-width="1" />
<line x1="7" y1="138.5" x2="16" y2="138.5" stroke="#b8b8b8" stroke-width="1" />
<line x1="7" y1="151.5" x2="16" y2="151.5" stroke="#999" stroke-width="1" />
<line x1="7" y1="165.5" x2="13.5" y2="165.5" stroke="#9a9a9a" stroke-width="1" />
<line x1="38.5" y1="165.5" x2="46" y2="165.5" stroke="#9a9a9a" stroke-width="1" />
<line x1="7" y1="178.5" x2="16" y2="178.5" stroke="#999" stroke-width="1" />
<line x1="7" y1="191.5" x2="16" y2="191.5" stroke="#b8b8b8" stroke-width="1" />
<line x1="7" y1="205.5" x2="16" y2="205.5" stroke="#999" stroke-width="1" />
<line x1="7" y1="218.5" x2="16" y2="218.5" stroke="#b8b8b8" stroke-width="1" />
<line x1="7" y1="231.5" x2="13.5" y2="231.5" stroke="#9a9a9a" stroke-width="1" />
<line x1="38.5" y1="231.5" x2="46" y2="231.5" stroke="#9a9a9a" stroke-width="1" />
<line x1="7" y1="245.5" x2="16" y2="245.5" stroke="#b8b8b8" stroke-width="1" />
<line x1="7" y1="258.5" x2="16" y2="258.5" stroke="#999" stroke-width="1" />
<line x1="7" y1="271.5" x2="16" y2="271.5" stroke="#b8b8b8" stroke-width="1" />
<line x1="7" y1="284.5" x2="16" y2="284.5" stroke="#999" stroke-width="1" />
<line x1="7" y1="298.5" x2="13.5" y2="298.5" stroke="#9a9a9a" stroke-width="1" />
<line x1="38.5" y1="298.5" x2="46" y2="298.5" stroke="#9a9a9a" stroke-width="1" />
<line x1="7" y1="311.5" x2="16" y2="311.5" stroke="#999" stroke-width="1" />
<line x1="7" y1="324.5" x2="16" y2="324.5" stroke="#b8b8b8" stroke-width="1" />
<line x1="7" y1="338.5" x2="16" y2="338.5" stroke="#999" stroke-width="1" />
<line x1="7" y1="351.5" x2="16" y2="351.5" stroke="#b8b8b8" stroke-width="1" />
<line x1="7" y1="364.5" x2="13.5" y2="364.5" stroke="#9a9a9a" stroke-width="1" />
<line x1="38.5" y1="364.5" x2="46" y2="364.5" stroke="#9a9a9a" stroke-width="1" />
<line x1="7" y1="378.5" x2="16" y2="378.5" stroke="#b8b8b8" stroke-width="1" />
<line x1="7" y1="391.5" x2="16" y2="391.5" stroke="#999" stroke-width="1" />
<line x1="7" y1="404.5" x2="16" y2="404.5" stroke="#b8b8b8" stroke-width="1" />
<line x1="7" y1="418.5" x2="16" y2="418.5" stroke="#999" stroke-width="1" />
<line x1="7" y1="431.5" x2="13.5" y2="431.5" stroke="#9a9a9a" stroke-width="1" />
<line x1="38.5" y1="431.5" x2="46" y2="431.5" stroke="#9a9a9a" stroke-width="1" />
<line x1="7" y1="444.5" x2="16" y2="444.5" stroke="#999" stroke-width="1" />
<line x1="7" y1="458.5" x2="16" y2="458.5" stroke="#b8b8b8" stroke-width="1" />
<line x1="7" y1="471.5" x2="16" y2="471.5" stroke="#999" stroke-width="1" />
<line x1="7" y1="484.5" x2="16" y2="484.5" stroke="#b8b8b8" stroke-width="1" />
<line x1="7" y1="498.5" x2="13.5" y2="498.5" stroke="#9a9a9a" stroke-width="1" />
<line x1="38.5" y1="498.5" x2="46" y2="498.5" stroke="#9a9a9a" stroke-width="1" />
<line x1="7" y1="511.5" x2="16" y2="511.5" stroke="#b8b8b8" stroke-width="1" />
</g>
<text x="25.6" y="101.5" font-size="11.5" text-anchor="middle" fill="#111" >4030</text>
<text x="25.6" y="168.5" font-size="11.5" text-anchor="middle" fill="#111" >4035</text>
<text x="25.6" y="234.5" font-size="11.5" text-anchor="middle" fill="#111" >4040</text>
<text x="25.6" y="301.5" font-size="11.5" text-anchor="middle" fill="#111" >4045</text>
<text x="25.6" y="367.5" font-size="11.5" text-anchor="middle" fill="#111" >4050</text>
<text x="25.6" y="434.5" font-size="11.5" text-anchor="middle" fill="#111" >4055</text>
<text x="25.6" y="501.5" font-size="11.5" text-anchor="middle" fill="#111" >4060</text>
<text x="26" y="43" font-size="10.8" text-anchor="middle" fill="#1a1a1a" >DEPTH</text>
<text x="26" y="55" font-size="10.8" text-anchor="middle" fill="#1a1a1a" >m</text>
<text x="88" y="25.5" font-size="10.8" text-anchor="middle" fill="#1a1a1a" >RLLS(Ω.m)</text>
<text x="51" y="38.8" font-size="10.3" text-anchor="start" fill="#1a1a1a" >1</text>
<line x1="57" y1="35.5" x2="96" y2="35.5" stroke="#2020ff" stroke-width="1.4" stroke-dasharray="2,2.4"/>
<text x="124.5" y="38.8" font-size="10.3" text-anchor="end" fill="#1a1a1a" >10000</text>
<text x="88" y="65" font-size="10.8" text-anchor="middle" fill="#1a1a1a" >RLLD(Ω.m)</text>
<text x="51" y="78.2" font-size="10.3" text-anchor="start" fill="#1a1a1a" >1</text>
<line x1="57" y1="74.5" x2="96" y2="74.5" stroke="#e02020" stroke-width="1.4" />
<text x="124.5" y="78.2" font-size="10.3" text-anchor="end" fill="#1a1a1a" >10000</text>
<text x="171" y="21.3" font-size="10.8" text-anchor="middle" fill="#1a1a1a" >DEN(g/cm<tspan font-size="6.5" dy="-6.5" font-weight="bold">3</tspan><tspan dy="6.5">)</tspan></text>
<text x="134" y="27.2" font-size="10.3" text-anchor="start" fill="#1a1a1a" >1</text>
<line x1="141" y1="24.2" x2="201" y2="24.2" stroke="#e02020" stroke-width="1.4" />
<text x="207.5" y="27.2" font-size="10.3" text-anchor="end" fill="#1a1a1a" >4</text>
<text x="171" y="45" font-size="10.8" text-anchor="middle" fill="#1a1a1a" >AC(μs/m)</text>
<text x="134" y="54.2" font-size="10.3" text-anchor="start" fill="#1a1a1a" >100</text>
<line x1="151" y1="50.8" x2="191" y2="50.8" stroke="#111" stroke-width="1.3" />
<text x="208" y="54.2" font-size="10.3" text-anchor="end" fill="#1a1a1a" >550</text>
<text x="171" y="71" font-size="10.8" text-anchor="middle" fill="#1a1a1a" >CN</text>
<text x="133.5" y="80.8" font-size="10.3" text-anchor="start" fill="#1a1a1a" >0</text>
<line x1="141" y1="77.5" x2="191" y2="77.5" stroke="#1a1aff" stroke-width="1.4" />
<text x="208" y="80.8" font-size="10.3" text-anchor="end" fill="#1a1a1a" >150</text>
<text x="254.5" y="45" font-size="10.8" text-anchor="middle" fill="#1a1a1a" >GR(API)</text>
<text x="217.5" y="58.1" font-size="10.3" text-anchor="start" fill="#1a1a1a" >0</text>
<line x1="224" y1="54.5" x2="274" y2="54.5" stroke="#e02020" stroke-width="1.4" stroke-dasharray="6,3"/>
<text x="291" y="58.1" font-size="10.3" text-anchor="end" fill="#1a1a1a" >800</text>
<text x="338" y="18.1" font-size="10.8" text-anchor="middle" fill="#1a1a1a" >TH(ppm)</text>
<text x="300.5" y="27.6" font-size="10.3" text-anchor="start" fill="#1a1a1a" >0</text>
<line x1="308" y1="24" x2="357" y2="24" stroke="#1a1aff" stroke-width="1.4" />
<text x="375" y="27.6" font-size="10.3" text-anchor="end" fill="#1a1a1a" >150</text>
<text x="337.5" y="45" font-size="10.8" text-anchor="middle" fill="#1a1a1a" >U(ppm)</text>
<text x="300.5" y="54.2" font-size="10.3" text-anchor="start" fill="#1a1a1a" >0</text>
<line x1="307.6" y1="50.8" x2="363" y2="50.8" stroke="#e02020" stroke-width="1.4" stroke-dasharray="6,3"/>
<text x="375" y="54.2" font-size="10.3" text-anchor="end" fill="#1a1a1a" >50</text>
<text x="338" y="71.3" font-size="10.8" text-anchor="middle" fill="#1a1a1a" >K(%)</text>
<text x="300.5" y="80.8" font-size="10.3" text-anchor="start" fill="#1a1a1a" >0</text>
<line x1="308" y1="77.5" x2="368" y2="77.5" stroke="#111" stroke-width="1.3" />
<text x="375" y="80.8" font-size="10.3" text-anchor="end" fill="#1a1a1a" >5</text>
<text x="404.5" y="37.8" font-size="10.8" text-anchor="middle" fill="#1a1a1a" >Y1</text>
<text x="382.5" y="50.3" font-size="10.3" text-anchor="start" fill="#1a1a1a" >-1</text>
<line x1="393.0" y1="46.7" x2="420.0" y2="46.7" stroke="#555" stroke-width="0.8" />
<text x="426.0" y="50.3" font-size="10.3" text-anchor="end" fill="#1a1a1a" >4</text>
<text x="454.75" y="37.8" font-size="10.8" text-anchor="middle" fill="#1a1a1a" >Y2</text>
<text x="432.5" y="50.3" font-size="10.3" text-anchor="start" fill="#1a1a1a" >-2</text>
<line x1="443.0" y1="46.7" x2="470.5" y2="46.7" stroke="#555" stroke-width="0.8" />
<text x="476.5" y="50.3" font-size="10.3" text-anchor="end" fill="#1a1a1a" >3</text>
<text x="504.75" y="37.8" font-size="10.8" text-anchor="middle" fill="#1a1a1a" >Y</text>
<text x="483" y="50.3" font-size="10.3" text-anchor="start" fill="#1a1a1a" >-2</text>
<line x1="493.5" y1="46.7" x2="520.0" y2="46.7" stroke="#555" stroke-width="0.8" />
<text x="526.0" y="50.3" font-size="10.3" text-anchor="end" fill="#1a1a1a" >3</text>
<text x="571.5" y="17.3" font-size="9.4" text-anchor="middle" fill="#1a1a1a" >Without PCA</text>
<text x="534.5" y="28.6" font-size="10.3" text-anchor="start" fill="#1a1a1a" >0</text>
<text x="608.5" y="28.6" font-size="10.3" text-anchor="end" fill="#1a1a1a" >100</text>
<polygon points="564.3,26.3 567.1,26.3 565.7,23.8" fill="#ff00ff"/>
<text x="571.5" y="43.4" font-size="9.4" text-anchor="middle" fill="#1a1a1a" >With PCA</text>
<text x="534.5" y="54.8" font-size="10.3" text-anchor="start" fill="#1a1a1a" >0</text>
<text x="608.5" y="54.8" font-size="10.3" text-anchor="end" fill="#1a1a1a" >100</text>
<rect x="564.8" y="50.3" width="1.8" height="1.8" fill="#000"/>
<text x="571.5" y="70" font-size="9.4" text-anchor="middle" fill="#1a1a1a" >ICP</text>
<text x="534.5" y="80.4" font-size="10.3" text-anchor="start" fill="#1a1a1a" >0</text>
<text x="608.5" y="80.4" font-size="10.3" text-anchor="end" fill="#1a1a1a" >100</text>
<polygon points="565.7,74.8 568.2,77.3 565.7,79.8 563.2,77.3" fill="#d40000"/>
<text x="646.5" y="48.7" font-size="10.3" text-anchor="middle" fill="#1a1a1a" >LITHOLOGY</text>
<g shape-rendering="crispEdges">
<line x1="613.5" y1="163.5" x2="680" y2="163.5" stroke="#808080" stroke-width="1" />
<line x1="613.5" y1="205.5" x2="680" y2="205.5" stroke="#808080" stroke-width="1" />
<line x1="613.5" y1="221.5" x2="680" y2="221.5" stroke="#808080" stroke-width="1" />
<line x1="613.5" y1="233.5" x2="680" y2="233.5" stroke="#808080" stroke-width="1" />
<line x1="613.5" y1="280.5" x2="680" y2="280.5" stroke="#808080" stroke-width="1" />
<line x1="613.5" y1="293.5" x2="680" y2="293.5" stroke="#808080" stroke-width="1" />
<line x1="613.5" y1="317.5" x2="680" y2="317.5" stroke="#808080" stroke-width="1" />
<line x1="613.5" y1="413.5" x2="680" y2="413.5" stroke="#808080" stroke-width="1" />
<line x1="613.5" y1="433.5" x2="680" y2="433.5" stroke="#808080" stroke-width="1" />
<line x1="613.5" y1="449.5" x2="680" y2="449.5" stroke="#808080" stroke-width="1" />
<line x1="613.5" y1="492.5" x2="680" y2="492.5" stroke="#808080" stroke-width="1" />
</g>
<text x="646.5" y="188.3" font-size="10.4" text-anchor="middle" fill="#1a1a1a" >Clay</text>
<text x="646.5" y="216.9" font-size="10.4" text-anchor="middle" fill="#1a1a1a" >Coal</text>
<text x="646.5" y="231.1" font-size="10.4" text-anchor="middle" fill="#1a1a1a" >Bauxitic clay</text>
<text x="646.5" y="253.6" font-size="10.4" text-anchor="middle" fill="#1a1a1a" >Clayey</text>
<text x="646.5" y="266.4" font-size="10.4" text-anchor="middle" fill="#1a1a1a" >bauxite</text>
<text x="646.5" y="291" font-size="10.4" text-anchor="middle" fill="#1a1a1a" >Bauxite</text>
<text x="646.5" y="303.5" font-size="10.4" text-anchor="middle" fill="#1a1a1a" >Carbonaceous</text>
<text x="646.5" y="317" font-size="10.4" text-anchor="middle" fill="#1a1a1a" >mudstone</text>
<text x="646.5" y="369.2" font-size="10.4" text-anchor="middle" fill="#1a1a1a" >Bauxite</text>
<text x="646.5" y="426.1" font-size="10.4" text-anchor="middle" fill="#1a1a1a" >Clayey bauxite</text>
<text x="646.5" y="444.9" font-size="10.4" text-anchor="middle" fill="#1a1a1a" >Bauxitic clay</text>
<text x="646.5" y="474" font-size="10.4" text-anchor="middle" fill="#1a1a1a" >Clay</text>
</svg></body></html>
